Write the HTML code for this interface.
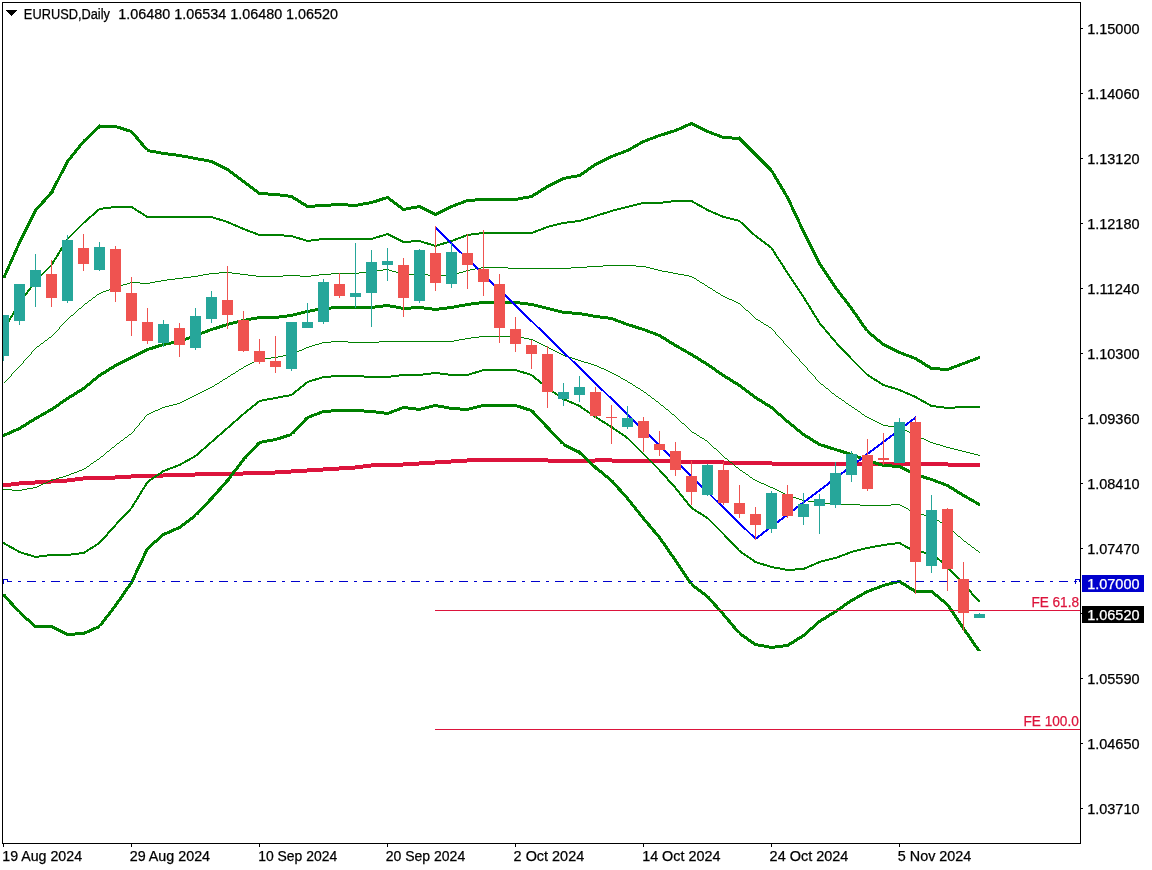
<!DOCTYPE html>
<html lang="en"><head><meta charset="utf-8"><title>EURUSD,Daily</title>
<style>html,body{margin:0;padding:0;background:#fff;overflow:hidden}svg{display:block}text{font-family:"Liberation Sans",sans-serif;font-size:14px;fill:#000;stroke:#000;stroke-width:0.25}text.w{fill:#fff;stroke:#fff}text.c{fill:#DC143C;stroke:#DC143C}</style></head><body>
<svg width="1152" height="870" viewBox="0 0 1152 870">
<rect width="1152" height="870" fill="#fff"/>
<g shape-rendering="crispEdges">
<path fill="#DC143C" d="M467 458h81v1h-81zM595 458h17v1h-17zM451 459h134v1h-134zM589 459h59v1h-59zM650 459h20v1h-20zM435 460h151v1h-151zM590 460h59v1h-59zM651 460h19v1h-19zM681 460h43v1h-43zM419 461h168v1h-168zM591 461h59v1h-59zM652 461h18v1h-18zM681 461h10v3h-10zM692 461h37v1h-37zM730 461h42v1h-42zM403 462h64v1h-64zM548 462h40v1h-40zM592 462h3v1h-3zM612 462h39v1h-39zM653 462h17v1h-17zM692 462h31v2h-31zM724 462h6v1h-6zM732 462h103v1h-103zM836 462h10v4h-10zM858 462h4v1h-4zM879 462h4v1h-4zM884 462h10v1h-10zM905 462h5v1h-5zM921 462h27v1h-27zM371 463h80v1h-80zM724 463h8v1h-8zM733 463h102v1h-102zM857 463h5v3h-5zM882 463h1v1h-1zM884 463h26v1h-26zM921 463h59v3h-59zM363 464h72v1h-72zM724 464h9v1h-9zM734 464h101v1h-101zM873 464h2v1h-2zM892 464h18v1h-18zM355 465h64v1h-64zM772 465h63v1h-63zM873 465h5v1h-5zM901 465h9v1h-9zM339 466h64v1h-64zM948 466h32v1h-32zM323 467h48v1h-48zM307 468h56v1h-56zM291 469h64v1h-64zM275 470h64v1h-64zM243 471h80v1h-80zM195 472h37v1h-37zM235 472h72v1h-72zM163 473h68v1h-68zM235 473h56v1h-56zM131 474h26v1h-26zM160 474h70v1h-70zM234 474h41v1h-41zM115 475h40v1h-40zM159 475h70v1h-70zM233 475h10v1h-10zM83 476h71v1h-71zM157 476h38v1h-38zM75 477h77v1h-77zM156 477h7v1h-7zM67 478h64v1h-64zM51 479h2v1h-2zM56 479h59v1h-59zM35 480h15v1h-15zM53 480h30v1h-30zM19 481h29v1h-29zM50 481h25v1h-25zM11 482h35v1h-35zM48 482h19v1h-19zM3 483h40v1h-40zM46 483h5v1h-5zM3 484h32v1h-32zM3 485h16v1h-16zM3 486h8v1h-8zM435 610h523v1h-523zM969 610h111v1h-111zM435 729h645v1h-645z"/>
<path fill="#008000" d="M690 122h3v1h-3zM688 123h7v1h-7zM99 124h1v1h-1zM685 124h12v1h-12zM98 125h19v1h-19zM683 125h8v1h-8zM692 125h7v1h-7zM97 126h24v1h-24zM681 126h7v1h-7zM694 126h7v1h-7zM96 127h28v1h-28zM679 127h7v1h-7zM696 127h7v1h-7zM95 128h5v1h-5zM117 128h10v1h-10zM676 128h8v1h-8zM698 128h7v1h-7zM94 129h4v1h-4zM120 129h10v1h-10zM674 129h8v1h-8zM700 129h7v1h-7zM93 130h4v1h-4zM123 130h9v1h-9zM670 130h9v1h-9zM702 130h7v1h-7zM92 131h4v1h-4zM126 131h7v1h-7zM667 131h10v1h-10zM704 131h8v1h-8zM91 132h4v1h-4zM130 132h4v1h-4zM664 132h10v1h-10zM706 132h8v1h-8zM90 133h4v1h-4zM131 133h4v1h-4zM661 133h10v1h-10zM709 133h8v1h-8zM89 134h4v1h-4zM132 134h4v1h-4zM658 134h10v1h-10zM711 134h9v1h-9zM88 135h4v1h-4zM133 135h4v1h-4zM655 135h10v1h-10zM714 135h8v1h-8zM87 136h4v1h-4zM134 136h4v1h-4zM653 136h8v1h-8zM717 136h15v1h-15zM739 136h1v1h-1zM86 137h4v1h-4zM135 137h4v2h-4zM650 137h8v1h-8zM719 137h22v1h-22zM85 138h4v1h-4zM647 138h9v1h-9zM722 138h20v1h-20zM83 139h5v1h-5zM136 139h4v1h-4zM645 139h8v1h-8zM732 139h11v1h-11zM83 140h4v1h-4zM137 140h4v1h-4zM642 140h8v1h-8zM739 140h5v1h-5zM82 141h4v1h-4zM138 141h4v1h-4zM640 141h8v1h-8zM740 141h5v1h-5zM81 142h4v1h-4zM139 142h4v1h-4zM639 142h6v1h-6zM741 142h5v1h-5zM80 143h4v1h-4zM140 143h4v2h-4zM637 143h6v1h-6zM742 143h5v1h-5zM79 144h4v1h-4zM635 144h6v1h-6zM743 144h5v1h-5zM78 145h4v1h-4zM141 145h4v1h-4zM633 145h6v1h-6zM744 145h5v1h-5zM78 146h3v1h-3zM142 146h4v1h-4zM632 146h6v1h-6zM745 146h5v1h-5zM77 147h4v1h-4zM143 147h4v1h-4zM630 147h6v1h-6zM746 147h5v1h-5zM76 148h4v1h-4zM144 148h4v1h-4zM628 148h6v1h-6zM747 148h5v1h-5zM75 149h4v1h-4zM145 149h5v1h-5zM626 149h6v1h-6zM748 149h5v1h-5zM74 150h4v1h-4zM147 150h9v1h-9zM623 150h8v1h-8zM749 150h5v1h-5zM74 151h3v1h-3zM147 151h14v1h-14zM621 151h8v1h-8zM750 151h5v1h-5zM73 152h4v1h-4zM150 152h18v1h-18zM618 152h8v1h-8zM751 152h5v1h-5zM72 153h4v1h-4zM156 153h20v1h-20zM615 153h9v1h-9zM752 153h5v1h-5zM71 154h4v1h-4zM161 154h21v1h-21zM613 154h8v1h-8zM753 154h5v1h-5zM70 155h4v1h-4zM168 155h20v1h-20zM610 155h8v1h-8zM754 155h5v1h-5zM70 156h3v1h-3zM176 156h17v1h-17zM608 156h8v1h-8zM755 156h5v1h-5zM69 157h4v1h-4zM182 157h16v1h-16zM606 157h7v1h-7zM756 157h5v1h-5zM68 158h4v1h-4zM188 158h16v1h-16zM604 158h7v1h-7zM757 158h5v1h-5zM67 159h4v1h-4zM193 159h16v1h-16zM602 159h7v1h-7zM758 159h5v1h-5zM66 160h4v1h-4zM198 160h15v1h-15zM600 160h7v1h-7zM759 160h5v1h-5zM66 161h3v1h-3zM204 161h11v1h-11zM598 161h7v1h-7zM760 161h5v1h-5zM65 162h4v1h-4zM209 162h8v1h-8zM596 162h7v1h-7zM761 162h5v1h-5zM65 163h3v1h-3zM212 163h7v1h-7zM594 163h7v1h-7zM762 163h5v1h-5zM64 164h4v1h-4zM214 164h7v1h-7zM593 164h6v1h-6zM763 164h5v1h-5zM64 165h3v1h-3zM216 165h7v1h-7zM591 165h6v1h-6zM764 165h5v1h-5zM63 166h4v1h-4zM218 166h7v1h-7zM590 166h5v1h-5zM765 166h5v1h-5zM63 167h3v1h-3zM220 167h7v1h-7zM588 167h6v1h-6zM766 167h5v1h-5zM62 168h4v1h-4zM222 168h7v1h-7zM587 168h5v1h-5zM767 168h5v1h-5zM62 169h3v1h-3zM224 169h6v1h-6zM586 169h5v1h-5zM768 169h4v1h-4zM61 170h4v1h-4zM226 170h5v1h-5zM584 170h5v1h-5zM769 170h4v1h-4zM61 171h3v1h-3zM228 171h5v1h-5zM583 171h5v1h-5zM770 171h4v1h-4zM60 172h4v1h-4zM229 172h5v1h-5zM581 172h6v1h-6zM771 172h3v1h-3zM60 173h3v1h-3zM230 173h5v1h-5zM580 173h5v1h-5zM772 173h3v1h-3zM59 174h3v2h-3zM232 174h5v1h-5zM577 174h7v1h-7zM772 174h4v1h-4zM233 175h5v1h-5zM571 175h11v1h-11zM773 175h3v1h-3zM58 176h3v2h-3zM234 176h5v1h-5zM566 176h15v1h-15zM773 176h4v1h-4zM236 177h5v1h-5zM562 177h15v1h-15zM774 177h3v1h-3zM57 178h3v2h-3zM237 178h5v1h-5zM560 178h11v1h-11zM774 178h4v1h-4zM238 179h5v1h-5zM558 179h8v1h-8zM775 179h4v1h-4zM56 180h3v1h-3zM240 180h5v1h-5zM556 180h7v1h-7zM776 180h3v1h-3zM55 181h4v1h-4zM241 181h5v1h-5zM554 181h7v1h-7zM776 181h4v1h-4zM55 182h3v1h-3zM242 182h5v1h-5zM552 182h7v1h-7zM777 182h3v1h-3zM54 183h4v1h-4zM244 183h5v1h-5zM550 183h7v1h-7zM777 183h4v1h-4zM54 184h3v1h-3zM245 184h5v1h-5zM548 184h7v1h-7zM778 184h4v1h-4zM53 185h4v1h-4zM246 185h5v1h-5zM546 185h7v1h-7zM779 185h3v1h-3zM53 186h3v1h-3zM248 186h5v1h-5zM545 186h6v1h-6zM779 186h4v1h-4zM52 187h4v1h-4zM249 187h5v1h-5zM543 187h6v1h-6zM780 187h3v1h-3zM52 188h3v1h-3zM250 188h5v1h-5zM541 188h6v1h-6zM780 188h4v1h-4zM51 189h4v1h-4zM252 189h5v1h-5zM540 189h6v1h-6zM781 189h4v1h-4zM51 190h3v1h-3zM253 190h5v1h-5zM538 190h6v1h-6zM782 190h3v1h-3zM50 191h4v1h-4zM254 191h5v1h-5zM537 191h5v1h-5zM782 191h4v1h-4zM49 192h5v1h-5zM256 192h12v1h-12zM535 192h6v1h-6zM783 192h3v1h-3zM49 193h4v1h-4zM257 193h23v1h-23zM533 193h6v1h-6zM783 193h4v1h-4zM48 194h4v1h-4zM258 194h30v1h-30zM532 194h6v1h-6zM784 194h3v1h-3zM47 195h4v1h-4zM268 195h25v1h-25zM529 195h7v1h-7zM785 195h3v1h-3zM46 196h4v1h-4zM280 196h14v1h-14zM386 196h3v1h-3zM523 196h11v1h-11zM785 196h4v1h-4zM45 197h4v1h-4zM288 197h8v1h-8zM382 197h8v1h-8zM518 197h15v1h-15zM786 197h3v1h-3zM44 198h4v1h-4zM292 198h6v1h-6zM379 198h12v1h-12zM475 198h54v1h-54zM786 198h4v1h-4zM43 199h4v1h-4zM293 199h6v1h-6zM376 199h10v1h-10zM388 199h5v1h-5zM466 199h57v1h-57zM787 199h3v1h-3zM42 200h4v1h-4zM295 200h6v1h-6zM373 200h10v1h-10zM389 200h5v1h-5zM463 200h55v1h-55zM671 200h22v1h-22zM787 200h4v1h-4zM41 201h5v1h-5zM297 201h5v1h-5zM369 201h11v1h-11zM390 201h5v1h-5zM461 201h14v1h-14zM663 201h31v1h-31zM788 201h3v1h-3zM41 202h4v1h-4zM298 202h6v1h-6zM363 202h14v1h-14zM392 202h5v1h-5zM458 202h8v1h-8zM641 202h30v1h-30zM692 202h4v1h-4zM788 202h4v1h-4zM40 203h4v1h-4zM300 203h6v1h-6zM331 203h17v1h-17zM358 203h15v1h-15zM393 203h5v1h-5zM455 203h9v1h-9zM637 203h26v1h-26zM694 203h4v1h-4zM789 203h3v2h-3zM39 204h4v1h-4zM301 204h6v1h-6zM315 204h54v1h-54zM394 204h5v1h-5zM453 204h8v1h-8zM633 204h8v1h-8zM696 204h4v1h-4zM38 205h4v1h-4zM303 205h60v1h-60zM396 205h5v1h-5zM417 205h4v1h-4zM450 205h8v1h-8zM629 205h8v1h-8zM697 205h5v1h-5zM790 205h3v2h-3zM37 206h4v1h-4zM111 206h22v1h-22zM305 206h26v1h-26zM348 206h10v1h-10zM397 206h5v1h-5zM411 206h12v1h-12zM448 206h8v1h-8zM625 206h8v1h-8zM699 206h4v1h-4zM36 207h4v1h-4zM103 207h31v1h-31zM306 207h9v1h-9zM398 207h5v1h-5zM406 207h19v1h-19zM446 207h7v1h-7zM621 207h8v1h-8zM701 207h4v1h-4zM791 207h3v2h-3zM35 208h4v1h-4zM99 208h12v1h-12zM132 208h4v1h-4zM400 208h17v1h-17zM420 208h7v1h-7zM444 208h7v1h-7zM617 208h8v1h-8zM703 208h4v1h-4zM34 209h4v1h-4zM97 209h6v1h-6zM134 209h3v1h-3zM401 209h10v1h-10zM422 209h7v1h-7zM442 209h7v1h-7zM613 209h8v1h-8zM705 209h4v1h-4zM791 209h4v1h-4zM34 210h3v1h-3zM96 210h3v1h-3zM135 210h4v1h-4zM402 210h4v1h-4zM424 210h7v1h-7zM440 210h7v1h-7zM610 210h7v1h-7zM706 210h5v1h-5zM792 210h3v1h-3zM33 211h4v1h-4zM95 211h3v1h-3zM137 211h4v1h-4zM426 211h7v1h-7zM438 211h7v1h-7zM607 211h6v1h-6zM708 211h5v1h-5zM792 211h4v1h-4zM33 212h3v1h-3zM94 212h3v1h-3zM138 212h4v1h-4zM428 212h7v1h-7zM436 212h7v1h-7zM603 212h7v1h-7zM711 212h5v1h-5zM793 212h3v1h-3zM32 213h4v1h-4zM93 213h3v1h-3zM140 213h4v1h-4zM430 213h11v1h-11zM600 213h7v1h-7zM713 213h5v1h-5zM793 213h4v1h-4zM32 214h3v1h-3zM92 214h3v1h-3zM142 214h3v1h-3zM432 214h7v1h-7zM597 214h7v1h-7zM715 214h5v1h-5zM794 214h3v1h-3zM31 215h4v1h-4zM91 215h3v1h-3zM143 215h4v1h-4zM434 215h3v1h-3zM594 215h6v1h-6zM718 215h5v1h-5zM794 215h4v1h-4zM31 216h3v1h-3zM89 216h3v1h-3zM145 216h68v1h-68zM591 216h6v1h-6zM720 216h6v1h-6zM795 216h3v1h-3zM30 217h4v1h-4zM88 217h3v1h-3zM146 217h70v1h-70zM587 217h7v1h-7zM722 217h8v1h-8zM795 217h4v1h-4zM30 218h3v1h-3zM87 218h3v1h-3zM213 218h7v1h-7zM584 218h7v1h-7zM726 218h8v1h-8zM796 218h3v1h-3zM29 219h4v1h-4zM86 219h3v1h-3zM216 219h7v1h-7zM581 219h7v1h-7zM730 219h8v1h-8zM796 219h4v1h-4zM29 220h3v1h-3zM85 220h3v1h-3zM219 220h7v1h-7zM575 220h9v1h-9zM734 220h6v1h-6zM797 220h3v2h-3zM28 221h4v1h-4zM84 221h3v1h-3zM223 221h6v1h-6zM567 221h14v1h-14zM738 221h3v1h-3zM28 222h3v1h-3zM83 222h3v1h-3zM226 222h5v1h-5zM561 222h14v1h-14zM740 222h3v1h-3zM798 222h3v2h-3zM27 223h4v1h-4zM82 223h2v1h-2zM228 223h5v1h-5zM557 223h10v1h-10zM741 223h3v1h-3zM27 224h3v1h-3zM81 224h2v1h-2zM231 224h5v1h-5zM553 224h8v1h-8zM742 224h3v1h-3zM799 224h3v2h-3zM26 225h4v1h-4zM80 225h2v1h-2zM233 225h5v1h-5zM549 225h8v1h-8zM743 225h3v1h-3zM26 226h3v1h-3zM79 226h2v1h-2zM235 226h5v1h-5zM546 226h7v1h-7zM744 226h3v1h-3zM799 226h4v1h-4zM25 227h4v1h-4zM78 227h2v1h-2zM238 227h5v1h-5zM543 227h6v1h-6zM745 227h3v1h-3zM800 227h3v1h-3zM25 228h3v1h-3zM77 228h2v1h-2zM240 228h5v1h-5zM541 228h5v1h-5zM746 228h3v1h-3zM800 228h4v1h-4zM24 229h4v1h-4zM76 229h2v1h-2zM242 229h6v1h-6zM538 229h6v1h-6zM747 229h3v1h-3zM801 229h3v1h-3zM24 230h3v1h-3zM75 230h2v1h-2zM245 230h5v1h-5zM535 230h6v1h-6zM748 230h3v1h-3zM801 230h4v1h-4zM23 231h4v1h-4zM74 231h2v1h-2zM247 231h6v1h-6zM533 231h5v1h-5zM749 231h3v1h-3zM802 231h3v1h-3zM23 232h3v1h-3zM73 232h2v1h-2zM250 232h6v1h-6zM479 232h4v1h-4zM484 232h52v1h-52zM750 232h3v1h-3zM802 232h4v1h-4zM22 233h4v1h-4zM72 233h2v1h-2zM253 233h5v1h-5zM386 233h3v1h-3zM471 233h12v1h-12zM484 233h49v1h-49zM751 233h3v1h-3zM803 233h3v1h-3zM22 234h3v1h-3zM71 234h2v1h-2zM255 234h29v1h-29zM383 234h8v1h-8zM466 234h1v1h-1zM468 234h11v1h-11zM752 234h3v1h-3zM803 234h4v1h-4zM21 235h4v1h-4zM70 235h2v1h-2zM258 235h35v1h-35zM379 235h7v1h-7zM388 235h5v1h-5zM463 235h4v1h-4zM468 235h3v1h-3zM754 235h3v1h-3zM804 235h3v1h-3zM21 236h3v1h-3zM69 236h2v1h-2zM284 236h12v1h-12zM376 236h7v1h-7zM390 236h5v1h-5zM461 236h5v1h-5zM755 236h3v1h-3zM804 236h4v1h-4zM20 237h4v1h-4zM68 237h2v1h-2zM293 237h7v1h-7zM373 237h7v1h-7zM392 237h5v1h-5zM458 237h6v1h-6zM756 237h3v1h-3zM805 237h3v1h-3zM20 238h3v1h-3zM68 238h1v1h-1zM296 238h7v1h-7zM319 238h57v1h-57zM394 238h5v1h-5zM455 238h6v1h-6zM757 238h4v1h-4zM805 238h4v1h-4zM19 239h4v1h-4zM66 239h1v1h-1zM299 239h7v1h-7zM311 239h62v1h-62zM396 239h5v1h-5zM453 239h5v1h-5zM759 239h3v1h-3zM806 239h3v1h-3zM19 240h3v1h-3zM303 240h16v1h-16zM398 240h5v1h-5zM411 240h10v1h-10zM450 240h6v1h-6zM760 240h3v1h-3zM806 240h4v1h-4zM18 241h4v1h-4zM306 241h5v1h-5zM400 241h24v1h-24zM447 241h1v1h-1zM451 241h2v1h-2zM761 241h4v1h-4zM807 241h3v1h-3zM18 242h3v1h-3zM402 242h9v1h-9zM421 242h7v1h-7zM443 242h6v1h-6zM763 242h3v1h-3zM807 242h4v1h-4zM17 243h4v1h-4zM424 243h7v1h-7zM440 243h7v1h-7zM764 243h3v1h-3zM808 243h3v1h-3zM17 244h3v2h-3zM427 244h7v1h-7zM437 244h7v1h-7zM765 244h4v1h-4zM808 244h4v1h-4zM431 245h4v1h-4zM436 245h4v1h-4zM767 245h3v1h-3zM809 245h3v1h-3zM16 246h3v2h-3zM434 246h1v1h-1zM436 246h1v1h-1zM768 246h3v1h-3zM809 246h4v1h-4zM61 247h1v1h-1zM769 247h3v1h-3zM810 247h3v1h-3zM15 248h3v2h-3zM60 248h2v2h-2zM771 248h2v1h-2zM810 248h4v1h-4zM771 249h3v1h-3zM811 249h3v1h-3zM14 250h4v1h-4zM59 250h3v1h-3zM772 250h2v1h-2zM811 250h4v1h-4zM14 251h3v1h-3zM59 251h2v1h-2zM773 251h2v1h-2zM812 251h3v1h-3zM13 252h4v1h-4zM58 252h2v1h-2zM773 252h3v1h-3zM812 252h4v1h-4zM13 253h3v2h-3zM57 253h3v1h-3zM774 253h2v1h-2zM813 253h3v1h-3zM57 254h2v1h-2zM774 254h3v1h-3zM813 254h4v1h-4zM12 255h3v2h-3zM56 255h3v1h-3zM775 255h2v1h-2zM814 255h3v1h-3zM56 256h2v1h-2zM776 256h2v1h-2zM814 256h4v1h-4zM11 257h3v2h-3zM55 257h2v1h-2zM776 257h3v1h-3zM815 257h3v1h-3zM54 258h3v1h-3zM777 258h2v1h-2zM815 258h4v1h-4zM10 259h4v1h-4zM54 259h2v1h-2zM778 259h2v1h-2zM816 259h3v1h-3zM10 260h3v1h-3zM53 260h2v1h-2zM778 260h3v1h-3zM816 260h4v1h-4zM9 261h4v1h-4zM52 261h3v1h-3zM779 261h2v1h-2zM817 261h3v1h-3zM9 262h3v2h-3zM52 262h2v2h-2zM780 262h2v1h-2zM817 262h4v1h-4zM780 263h3v1h-3zM818 263h3v1h-3zM8 264h3v2h-3zM52 264h1v1h-1zM781 264h2v1h-2zM818 264h4v1h-4zM50 265h1v1h-1zM603 265h33v1h-33zM782 265h2v1h-2zM819 265h4v1h-4zM7 266h3v2h-3zM49 266h2v1h-2zM587 266h16v1h-16zM636 266h10v1h-10zM782 266h3v1h-3zM820 266h3v1h-3zM48 267h2v1h-2zM481 267h2v1h-2zM484 267h24v1h-24zM571 267h16v1h-16zM646 267h4v1h-4zM783 267h2v1h-2zM820 267h4v1h-4zM6 268h4v1h-4zM47 268h2v1h-2zM475 268h1v1h-1zM479 268h2v1h-2zM508 268h63v1h-63zM650 268h4v1h-4zM783 268h3v1h-3zM821 268h4v1h-4zM6 269h3v1h-3zM46 269h2v1h-2zM383 269h4v1h-4zM388 269h1v1h-1zM470 269h5v1h-5zM654 269h4v1h-4zM784 269h2v1h-2zM822 269h3v1h-3zM5 270h4v1h-4zM45 270h2v1h-2zM377 270h6v1h-6zM389 270h3v1h-3zM466 270h1v1h-1zM468 270h2v1h-2zM658 270h4v1h-4zM785 270h2v1h-2zM822 270h4v1h-4zM5 271h3v2h-3zM44 271h2v1h-2zM392 271h4v1h-4zM463 271h3v1h-3zM662 271h6v1h-6zM785 271h3v1h-3zM823 271h4v1h-4zM43 272h2v1h-2zM219 272h8v1h-8zM228 272h4v1h-4zM359 272h7v1h-7zM396 272h2v1h-2zM459 272h4v1h-4zM668 272h5v1h-5zM786 272h2v1h-2zM824 272h3v1h-3zM4 273h3v2h-3zM42 273h2v1h-2zM209 273h10v1h-10zM232 273h8v1h-8zM331 273h8v1h-8zM340 273h15v1h-15zM356 273h3v1h-3zM457 273h2v1h-2zM673 273h5v1h-5zM787 273h2v1h-2zM824 273h4v1h-4zM41 274h2v1h-2zM203 274h6v1h-6zM240 274h8v1h-8zM319 274h12v1h-12zM409 274h5v1h-5zM425 274h3v1h-3zM678 274h6v1h-6zM787 274h3v1h-3zM825 274h4v1h-4zM3 275h3v3h-3zM41 275h1v1h-1zM198 275h5v1h-5zM248 275h8v1h-8zM283 275h17v1h-17zM311 275h8v1h-8zM428 275h2v1h-2zM441 275h5v1h-5zM684 275h5v1h-5zM788 275h2v1h-2zM826 275h3v1h-3zM191 276h7v1h-7zM256 276h27v1h-27zM300 276h11v1h-11zM689 276h3v1h-3zM789 276h2v1h-2zM826 276h4v1h-4zM183 277h8v1h-8zM692 277h2v1h-2zM789 277h3v1h-3zM827 277h4v1h-4zM175 278h8v1h-8zM694 278h2v1h-2zM790 278h2v1h-2zM828 278h3v1h-3zM167 279h8v1h-8zM696 279h1v1h-1zM791 279h2v1h-2zM828 279h4v1h-4zM161 280h6v1h-6zM697 280h2v1h-2zM791 280h3v1h-3zM829 280h4v1h-4zM155 281h6v1h-6zM699 281h1v1h-1zM792 281h2v1h-2zM830 281h3v1h-3zM130 282h1v1h-1zM132 282h8v1h-8zM150 282h5v1h-5zM700 282h2v1h-2zM793 282h2v1h-2zM830 282h4v1h-4zM127 283h3v1h-3zM140 283h10v1h-10zM702 283h2v1h-2zM793 283h3v1h-3zM831 283h4v1h-4zM123 284h4v1h-4zM704 284h1v1h-1zM794 284h2v1h-2zM832 284h3v1h-3zM121 285h2v1h-2zM705 285h2v1h-2zM795 285h2v1h-2zM832 285h4v1h-4zM707 286h1v1h-1zM795 286h3v1h-3zM833 286h4v1h-4zM30 287h2v1h-2zM708 287h2v1h-2zM796 287h2v1h-2zM834 287h3v1h-3zM29 288h2v1h-2zM710 288h2v1h-2zM797 288h2v1h-2zM834 288h4v1h-4zM28 289h3v1h-3zM109 289h1v1h-1zM712 289h1v1h-1zM797 289h3v1h-3zM835 289h4v1h-4zM27 290h3v1h-3zM106 290h3v1h-3zM713 290h2v1h-2zM798 290h2v1h-2zM836 290h4v1h-4zM27 291h2v1h-2zM103 291h3v1h-3zM715 291h1v1h-1zM799 291h2v1h-2zM837 291h3v1h-3zM26 292h2v1h-2zM101 292h2v1h-2zM716 292h2v1h-2zM799 292h3v1h-3zM837 292h4v1h-4zM25 293h3v1h-3zM99 293h2v1h-2zM718 293h2v1h-2zM800 293h2v1h-2zM838 293h4v1h-4zM25 294h2v1h-2zM97 294h2v1h-2zM720 294h1v1h-1zM801 294h2v1h-2zM839 294h4v1h-4zM25 295h1v1h-1zM96 295h1v1h-1zM721 295h2v1h-2zM801 295h3v1h-3zM840 295h3v1h-3zM95 296h1v1h-1zM723 296h2v1h-2zM802 296h2v1h-2zM840 296h4v1h-4zM93 297h2v1h-2zM725 297h2v1h-2zM803 297h2v1h-2zM841 297h4v1h-4zM92 298h1v1h-1zM727 298h2v1h-2zM803 298h3v1h-3zM842 298h4v1h-4zM91 299h1v1h-1zM729 299h3v1h-3zM804 299h2v1h-2zM843 299h4v1h-4zM89 300h2v1h-2zM732 300h2v1h-2zM804 300h3v1h-3zM844 300h3v1h-3zM88 301h1v1h-1zM479 301h15v1h-15zM505 301h5v1h-5zM513 301h7v1h-7zM734 301h2v1h-2zM805 301h2v1h-2zM844 301h4v1h-4zM87 302h1v1h-1zM471 302h23v1h-23zM505 302h6v1h-6zM514 302h14v1h-14zM736 302h2v1h-2zM806 302h2v1h-2zM845 302h4v1h-4zM85 303h2v1h-2zM465 303h29v1h-29zM505 303h7v1h-7zM515 303h19v1h-19zM738 303h2v1h-2zM806 303h3v1h-3zM846 303h4v1h-4zM84 304h1v1h-1zM383 304h7v1h-7zM459 304h20v1h-20zM520 304h18v1h-18zM740 304h1v1h-1zM807 304h2v1h-2zM847 304h3v1h-3zM83 305h1v1h-1zM375 305h21v1h-21zM454 305h17v1h-17zM528 305h14v1h-14zM741 305h1v1h-1zM808 305h2v1h-2zM847 305h4v1h-4zM82 306h1v1h-1zM331 306h24v1h-24zM356 306h15v2h-15zM372 306h29v1h-29zM411 306h13v1h-13zM447 306h18v1h-18zM534 306h12v1h-12zM742 306h1v1h-1zM808 306h3v1h-3zM848 306h4v1h-4zM81 307h1v1h-1zM329 307h26v1h-26zM372 307h11v1h-11zM390 307h13v1h-13zM404 307h28v1h-28zM439 307h20v1h-20zM538 307h12v1h-12zM743 307h1v1h-1zM809 307h2v1h-2zM849 307h4v1h-4zM79 308h2v1h-2zM315 308h3v1h-3zM329 308h42v1h-42zM372 308h3v1h-3zM396 308h7v1h-7zM404 308h50v1h-50zM542 308h12v1h-12zM744 308h1v1h-1zM809 308h3v1h-3zM850 308h3v1h-3zM78 309h1v1h-1zM310 309h8v1h-8zM329 309h2v1h-2zM401 309h2v1h-2zM404 309h7v1h-7zM424 309h23v1h-23zM546 309h12v1h-12zM745 309h1v1h-1zM810 309h2v1h-2zM850 309h4v1h-4zM77 310h1v1h-1zM305 310h2v1h-2zM308 310h10v1h-10zM432 310h7v1h-7zM550 310h12v1h-12zM746 310h2v1h-2zM811 310h2v1h-2zM851 310h4v1h-4zM13 311h1v2h-1zM76 311h1v1h-1zM301 311h6v1h-6zM308 311h7v1h-7zM554 311h18v1h-18zM748 311h1v1h-1zM811 311h3v1h-3zM852 311h3v1h-3zM75 312h1v1h-1zM297 312h10v1h-10zM308 312h2v1h-2zM558 312h24v1h-24zM749 312h1v1h-1zM812 312h2v1h-2zM852 312h4v1h-4zM12 313h2v2h-2zM74 313h1v1h-1zM293 313h12v1h-12zM562 313h26v1h-26zM750 313h1v1h-1zM812 313h3v1h-3zM853 313h4v1h-4zM73 314h1v1h-1zM287 314h14v1h-14zM572 314h21v1h-21zM751 314h1v1h-1zM813 314h2v1h-2zM854 314h4v1h-4zM11 315h2v1h-2zM71 315h2v1h-2zM279 315h18v1h-18zM582 315h18v1h-18zM752 315h1v1h-1zM814 315h2v1h-2zM855 315h3v1h-3zM10 316h3v1h-3zM70 316h1v1h-1zM257 316h36v1h-36zM588 316h20v1h-20zM753 316h1v1h-1zM814 316h3v1h-3zM855 316h4v1h-4zM10 317h2v1h-2zM69 317h1v1h-1zM251 317h36v1h-36zM593 317h20v1h-20zM754 317h1v1h-1zM815 317h2v1h-2zM856 317h4v1h-4zM9 318h2v2h-2zM68 318h1v1h-1zM246 318h33v1h-33zM600 318h16v1h-16zM755 318h1v1h-1zM816 318h2v1h-2zM857 318h3v1h-3zM67 319h1v1h-1zM241 319h2v1h-2zM244 319h13v1h-13zM608 319h10v1h-10zM756 319h2v1h-2zM816 319h3v1h-3zM857 319h4v1h-4zM9 320h1v2h-1zM66 320h1v1h-1zM237 320h1v1h-1zM249 320h2v1h-2zM613 320h8v1h-8zM758 320h2v1h-2zM817 320h2v1h-2zM858 320h4v1h-4zM65 321h1v1h-1zM233 321h5v1h-5zM615 321h9v1h-9zM760 321h1v1h-1zM817 321h3v1h-3zM859 321h3v1h-3zM64 322h1v1h-1zM229 322h9v1h-9zM618 322h8v1h-8zM761 322h2v1h-2zM818 322h2v1h-2zM859 322h4v1h-4zM63 323h1v1h-1zM226 323h1v1h-1zM228 323h9v1h-9zM621 323h8v1h-8zM763 323h1v1h-1zM819 323h2v1h-2zM860 323h4v1h-4zM62 324h1v1h-1zM222 324h5v1h-5zM228 324h5v1h-5zM623 324h10v1h-10zM764 324h2v1h-2zM819 324h3v1h-3zM861 324h3v1h-3zM61 325h1v1h-1zM219 325h8v1h-8zM228 325h1v1h-1zM626 325h10v1h-10zM766 325h2v1h-2zM820 325h3v1h-3zM861 325h4v1h-4zM60 326h1v1h-1zM216 326h10v1h-10zM629 326h10v1h-10zM768 326h1v1h-1zM821 326h3v1h-3zM862 326h4v1h-4zM59 327h1v2h-1zM213 327h10v1h-10zM632 327h10v1h-10zM769 327h2v1h-2zM822 327h3v1h-3zM863 327h4v1h-4zM210 328h10v1h-10zM635 328h10v1h-10zM771 328h1v1h-1zM823 328h2v1h-2zM864 328h3v1h-3zM58 329h1v1h-1zM207 329h10v1h-10zM638 329h10v1h-10zM772 329h1v1h-1zM824 329h2v1h-2zM864 329h4v1h-4zM57 330h1v1h-1zM205 330h8v1h-8zM642 330h8v1h-8zM773 330h1v1h-1zM825 330h2v1h-2zM865 330h4v1h-4zM56 331h1v1h-1zM202 331h8v1h-8zM645 331h8v1h-8zM774 331h1v1h-1zM825 331h3v1h-3zM867 331h3v1h-3zM55 332h1v1h-1zM201 332h7v1h-7zM647 332h9v1h-9zM775 332h1v2h-1zM826 332h3v1h-3zM867 332h4v1h-4zM54 333h1v1h-1zM201 333h4v1h-4zM650 333h8v1h-8zM827 333h3v1h-3zM868 333h4v1h-4zM53 334h1v1h-1zM201 334h1v1h-1zM653 334h8v1h-8zM776 334h1v1h-1zM828 334h2v1h-2zM869 334h5v1h-5zM52 335h1v1h-1zM655 335h7v1h-7zM777 335h1v1h-1zM829 335h2v1h-2zM870 335h5v1h-5zM51 336h1v1h-1zM189 336h1v1h-1zM479 336h20v1h-20zM500 336h10v1h-10zM658 336h6v1h-6zM778 336h1v1h-1zM830 336h2v1h-2zM871 336h5v1h-5zM49 337h2v1h-2zM186 337h4v1h-4zM471 337h8v1h-8zM521 337h3v1h-3zM660 337h6v1h-6zM779 337h1v1h-1zM830 337h3v1h-3zM873 337h4v1h-4zM48 338h1v1h-1zM185 338h5v1h-5zM465 338h6v1h-6zM524 338h5v1h-5zM661 338h6v1h-6zM780 338h1v1h-1zM831 338h3v1h-3zM874 338h4v1h-4zM47 339h1v1h-1zM185 339h4v1h-4zM459 339h6v1h-6zM529 339h4v1h-4zM663 339h6v1h-6zM781 339h1v1h-1zM832 339h3v1h-3zM875 339h5v1h-5zM45 340h2v1h-2zM185 340h1v1h-1zM454 340h5v1h-5zM533 340h2v1h-2zM665 340h5v1h-5zM782 340h1v1h-1zM833 340h3v1h-3zM876 340h5v1h-5zM44 341h1v1h-1zM171 341h3v1h-3zM331 341h17v1h-17zM379 341h75v1h-75zM535 341h2v1h-2zM666 341h6v1h-6zM783 341h1v2h-1zM834 341h2v1h-2zM877 341h5v1h-5zM43 342h1v1h-1zM169 342h5v1h-5zM322 342h9v1h-9zM348 342h31v1h-31zM537 342h2v1h-2zM668 342h6v1h-6zM835 342h2v1h-2zM879 342h4v1h-4zM41 343h2v1h-2zM162 343h1v1h-1zM164 343h10v1h-10zM319 343h3v1h-3zM539 343h2v1h-2zM669 343h6v1h-6zM784 343h1v1h-1zM836 343h2v1h-2zM880 343h5v1h-5zM40 344h1v1h-1zM158 344h5v1h-5zM164 344h7v1h-7zM315 344h4v1h-4zM541 344h2v1h-2zM671 344h6v1h-6zM785 344h1v1h-1zM836 344h3v1h-3zM881 344h6v1h-6zM39 345h1v1h-1zM155 345h8v1h-8zM164 345h2v1h-2zM312 345h3v1h-3zM543 345h2v1h-2zM673 345h6v1h-6zM786 345h1v1h-1zM837 345h3v1h-3zM882 345h7v1h-7zM37 346h2v1h-2zM152 346h10v1h-10zM309 346h3v1h-3zM545 346h2v1h-2zM674 346h6v1h-6zM787 346h1v1h-1zM838 346h3v1h-3zM884 346h7v1h-7zM36 347h1v1h-1zM149 347h10v1h-10zM306 347h3v1h-3zM548 347h1v1h-1zM676 347h6v1h-6zM788 347h1v1h-1zM839 347h3v1h-3zM886 347h7v1h-7zM35 348h1v1h-1zM146 348h10v1h-10zM304 348h2v1h-2zM549 348h2v1h-2zM678 348h6v1h-6zM789 348h1v1h-1zM840 348h3v1h-3zM888 348h7v1h-7zM34 349h1v1h-1zM144 349h9v1h-9zM302 349h2v1h-2zM551 349h2v1h-2zM680 349h6v1h-6zM790 349h1v1h-1zM841 349h3v1h-3zM890 349h7v1h-7zM33 350h1v1h-1zM142 350h7v1h-7zM299 350h3v1h-3zM553 350h2v1h-2zM681 350h6v1h-6zM791 350h1v2h-1zM842 350h3v1h-3zM892 350h7v1h-7zM32 351h1v1h-1zM140 351h7v1h-7zM297 351h2v1h-2zM555 351h2v1h-2zM683 351h6v1h-6zM843 351h3v1h-3zM894 351h7v1h-7zM31 352h1v2h-1zM138 352h7v1h-7zM557 352h2v1h-2zM685 352h6v1h-6zM792 352h1v1h-1zM844 352h3v1h-3zM896 352h8v1h-8zM136 353h7v1h-7zM559 353h2v1h-2zM687 353h6v1h-6zM793 353h1v1h-1zM845 353h3v1h-3zM898 353h8v1h-8zM30 354h1v1h-1zM134 354h7v1h-7zM561 354h2v1h-2zM688 354h6v1h-6zM794 354h1v1h-1zM846 354h3v1h-3zM901 354h8v1h-8zM29 355h1v1h-1zM132 355h7v1h-7zM283 355h3v1h-3zM563 355h2v1h-2zM690 355h6v1h-6zM795 355h1v1h-1zM847 355h3v1h-3zM903 355h9v1h-9zM28 356h1v1h-1zM130 356h7v1h-7zM278 356h5v1h-5zM565 356h1v1h-1zM692 356h6v1h-6zM796 356h1v1h-1zM848 356h3v1h-3zM906 356h8v1h-8zM978 356h2v1h-2zM27 357h1v1h-1zM128 357h7v1h-7zM271 357h4v1h-4zM276 357h2v1h-2zM570 357h2v1h-2zM693 357h6v1h-6zM797 357h1v1h-1zM849 357h2v1h-2zM909 357h8v1h-8zM975 357h5v1h-5zM26 358h1v1h-1zM126 358h7v1h-7zM265 358h6v1h-6zM572 358h3v1h-3zM695 358h6v1h-6zM798 358h1v1h-1zM850 358h2v1h-2zM911 358h7v1h-7zM973 358h7v1h-7zM25 359h1v1h-1zM124 359h7v1h-7zM575 359h3v1h-3zM697 359h5v1h-5zM799 359h1v2h-1zM851 359h2v1h-2zM914 359h6v1h-6zM970 359h8v1h-8zM24 360h1v1h-1zM122 360h7v1h-7zM578 360h3v1h-3zM698 360h6v1h-6zM852 360h2v1h-2zM916 360h6v1h-6zM967 360h9v1h-9zM23 361h1v2h-1zM120 361h7v1h-7zM581 361h3v1h-3zM700 361h6v1h-6zM800 361h1v1h-1zM853 361h2v1h-2zM917 361h6v1h-6zM965 361h8v1h-8zM118 362h7v1h-7zM252 362h2v1h-2zM584 362h4v1h-4zM701 362h6v1h-6zM801 362h1v1h-1zM854 362h2v1h-2zM919 362h6v1h-6zM962 362h8v1h-8zM22 363h1v1h-1zM116 363h7v1h-7zM250 363h2v1h-2zM588 363h3v1h-3zM703 363h6v1h-6zM802 363h1v1h-1zM855 363h2v1h-2zM921 363h5v1h-5zM959 363h9v1h-9zM21 364h1v1h-1zM114 364h7v1h-7zM248 364h2v1h-2zM591 364h3v1h-3zM705 364h5v1h-5zM803 364h1v1h-1zM856 364h2v1h-2zM922 364h6v1h-6zM957 364h8v1h-8zM20 365h1v1h-1zM113 365h6v1h-6zM246 365h2v1h-2zM594 365h3v1h-3zM706 365h6v1h-6zM804 365h1v1h-1zM857 365h2v1h-2zM924 365h6v1h-6zM954 365h8v1h-8zM19 366h1v1h-1zM111 366h6v1h-6zM244 366h2v1h-2zM597 366h2v1h-2zM708 366h5v1h-5zM805 366h1v1h-1zM858 366h2v1h-2zM925 366h6v1h-6zM951 366h9v1h-9zM18 367h1v1h-1zM109 367h6v1h-6zM243 367h1v1h-1zM599 367h2v1h-2zM709 367h6v1h-6zM806 367h1v1h-1zM859 367h2v1h-2zM927 367h13v1h-13zM949 367h8v1h-8zM17 368h1v1h-1zM108 368h6v1h-6zM241 368h2v1h-2zM601 368h3v1h-3zM711 368h5v1h-5zM807 368h1v2h-1zM860 368h2v1h-2zM929 368h25v1h-25zM16 369h1v1h-1zM106 369h6v1h-6zM239 369h2v1h-2zM482 369h35v1h-35zM604 369h2v1h-2zM712 369h5v1h-5zM861 369h2v1h-2zM930 369h22v1h-22zM15 370h1v1h-1zM105 370h5v1h-5zM238 370h1v1h-1zM479 370h41v1h-41zM606 370h2v1h-2zM714 370h5v1h-5zM808 370h1v1h-1zM862 370h2v1h-2zM940 370h9v1h-9zM14 371h1v1h-1zM103 371h6v1h-6zM236 371h2v1h-2zM475 371h7v1h-7zM517 371h7v1h-7zM608 371h2v1h-2zM715 371h5v1h-5zM809 371h1v1h-1zM863 371h2v1h-2zM13 372h1v1h-1zM101 372h6v1h-6zM235 372h1v1h-1zM431 372h9v1h-9zM472 372h7v1h-7zM520 372h7v1h-7zM610 372h2v1h-2zM716 372h6v1h-6zM810 372h1v1h-1zM864 372h2v1h-2zM12 373h1v1h-1zM100 373h6v1h-6zM233 373h2v1h-2zM423 373h25v1h-25zM469 373h7v1h-7zM523 373h7v1h-7zM612 373h2v1h-2zM718 373h5v1h-5zM811 373h1v1h-1zM865 373h2v1h-2zM11 374h1v2h-1zM98 374h6v1h-6zM231 374h2v1h-2zM399 374h32v1h-32zM440 374h32v1h-32zM527 374h5v1h-5zM614 374h2v1h-2zM719 374h6v1h-6zM812 374h1v1h-1zM866 374h3v1h-3zM97 375h5v1h-5zM230 375h1v1h-1zM331 375h33v1h-33zM391 375h32v1h-32zM448 375h21v1h-21zM530 375h4v1h-4zM616 375h2v1h-2zM721 375h5v1h-5zM813 375h1v1h-1zM867 375h3v1h-3zM10 376h1v1h-1zM96 376h5v1h-5zM228 376h2v1h-2zM322 376h77v1h-77zM532 376h3v1h-3zM618 376h2v1h-2zM722 376h6v1h-6zM814 376h1v1h-1zM868 376h4v1h-4zM9 377h1v1h-1zM95 377h4v1h-4zM227 377h1v1h-1zM319 377h12v1h-12zM364 377h27v1h-27zM533 377h3v1h-3zM620 377h1v1h-1zM724 377h6v1h-6zM815 377h1v2h-1zM870 377h3v1h-3zM8 378h1v1h-1zM93 378h5v1h-5zM225 378h2v1h-2zM315 378h7v1h-7zM534 378h3v1h-3zM621 378h2v1h-2zM725 378h6v1h-6zM871 378h4v1h-4zM7 379h1v1h-1zM92 379h5v1h-5zM223 379h2v1h-2zM312 379h7v1h-7zM535 379h4v1h-4zM623 379h2v1h-2zM727 379h6v1h-6zM816 379h1v1h-1zM873 379h4v1h-4zM6 380h1v1h-1zM91 380h5v1h-5zM222 380h1v1h-1zM309 380h7v1h-7zM537 380h3v1h-3zM625 380h2v1h-2zM729 380h5v1h-5zM817 380h1v1h-1zM874 380h4v1h-4zM5 381h1v1h-1zM90 381h4v1h-4zM220 381h2v1h-2zM307 381h5v1h-5zM538 381h3v1h-3zM627 381h1v1h-1zM730 381h6v1h-6zM818 381h1v1h-1zM876 381h4v1h-4zM4 382h1v1h-1zM89 382h4v1h-4zM219 382h1v1h-1zM305 382h4v1h-4zM539 382h3v1h-3zM628 382h2v1h-2zM732 382h6v1h-6zM819 382h1v1h-1zM878 382h3v1h-3zM87 383h5v1h-5zM217 383h2v1h-2zM304 383h3v1h-3zM540 383h2v1h-2zM630 383h2v1h-2zM733 383h6v1h-6zM820 383h1v1h-1zM879 383h4v1h-4zM86 384h5v1h-5zM215 384h2v1h-2zM303 384h3v1h-3zM632 384h1v1h-1zM735 384h6v1h-6zM821 384h2v1h-2zM881 384h4v1h-4zM85 385h5v1h-5zM214 385h1v1h-1zM302 385h3v1h-3zM633 385h2v1h-2zM737 385h5v1h-5zM823 385h1v1h-1zM882 385h6v1h-6zM84 386h4v1h-4zM212 386h2v1h-2zM300 386h4v1h-4zM635 386h1v1h-1zM738 386h5v1h-5zM824 386h1v1h-1zM885 386h7v1h-7zM82 387h5v1h-5zM210 387h2v1h-2zM299 387h3v1h-3zM636 387h2v1h-2zM740 387h5v1h-5zM825 387h1v1h-1zM888 387h7v1h-7zM81 388h5v1h-5zM208 388h2v1h-2zM298 388h3v1h-3zM638 388h2v1h-2zM741 388h5v1h-5zM826 388h2v1h-2zM891 388h7v1h-7zM79 389h6v1h-6zM206 389h2v1h-2zM297 389h3v1h-3zM640 389h1v1h-1zM742 389h5v1h-5zM828 389h1v1h-1zM895 389h6v1h-6zM77 390h6v1h-6zM204 390h2v1h-2zM295 390h4v1h-4zM641 390h2v1h-2zM744 390h5v1h-5zM829 390h1v1h-1zM898 390h5v1h-5zM76 391h6v1h-6zM202 391h2v1h-2zM294 391h3v1h-3zM553 391h1v1h-1zM643 391h1v1h-1zM745 391h5v1h-5zM830 391h1v1h-1zM900 391h5v1h-5zM74 392h6v1h-6zM200 392h2v1h-2zM293 392h3v1h-3zM552 392h4v1h-4zM644 392h2v1h-2zM746 392h5v1h-5zM831 392h1v1h-1zM903 392h5v1h-5zM73 393h5v1h-5zM198 393h2v1h-2zM292 393h3v1h-3zM554 393h3v1h-3zM646 393h1v1h-1zM748 393h5v1h-5zM832 393h2v1h-2zM905 393h5v1h-5zM71 394h6v1h-6zM196 394h2v1h-2zM289 394h5v1h-5zM555 394h3v1h-3zM647 394h1v1h-1zM749 394h5v1h-5zM834 394h1v1h-1zM907 394h5v1h-5zM69 395h6v1h-6zM194 395h2v1h-2zM283 395h9v1h-9zM557 395h1v1h-1zM648 395h2v1h-2zM750 395h5v1h-5zM835 395h1v1h-1zM910 395h5v1h-5zM68 396h6v1h-6zM192 396h2v1h-2zM278 396h11v1h-11zM650 396h1v1h-1zM752 396h5v1h-5zM836 396h2v1h-2zM912 396h5v1h-5zM66 397h6v1h-6zM190 397h2v1h-2zM273 397h10v1h-10zM651 397h1v1h-1zM753 397h5v1h-5zM838 397h1v1h-1zM914 397h4v1h-4zM65 398h5v1h-5zM188 398h2v1h-2zM267 398h11v1h-11zM652 398h2v1h-2zM754 398h6v1h-6zM839 398h2v1h-2zM916 398h4v1h-4zM63 399h6v1h-6zM186 399h2v1h-2zM262 399h11v1h-11zM562 399h1v1h-1zM564 399h3v1h-3zM654 399h1v1h-1zM756 399h6v1h-6zM841 399h1v1h-1zM918 399h4v1h-4zM62 400h5v1h-5zM184 400h2v1h-2zM259 400h8v1h-8zM564 400h5v1h-5zM655 400h1v1h-1zM757 400h6v1h-6zM842 400h2v1h-2zM920 400h4v1h-4zM60 401h6v1h-6zM182 401h2v1h-2zM257 401h5v1h-5zM567 401h5v1h-5zM656 401h2v1h-2zM759 401h6v1h-6zM844 401h1v1h-1zM921 401h5v1h-5zM59 402h5v1h-5zM180 402h2v1h-2zM256 402h3v1h-3zM569 402h5v1h-5zM658 402h1v1h-1zM761 402h5v1h-5zM845 402h1v1h-1zM923 402h4v1h-4zM58 403h5v1h-5zM177 403h3v1h-3zM255 403h3v1h-3zM571 403h5v1h-5zM659 403h1v1h-1zM762 403h6v1h-6zM846 403h2v1h-2zM925 403h4v1h-4zM56 404h5v1h-5zM173 404h4v1h-4zM254 404h3v1h-3zM433 404h5v1h-5zM481 404h36v1h-36zM574 404h5v1h-5zM660 404h1v1h-1zM764 404h6v1h-6zM848 404h1v1h-1zM927 404h4v1h-4zM55 405h5v1h-5zM169 405h4v1h-4zM252 405h4v1h-4zM429 405h15v1h-15zM477 405h44v1h-44zM576 405h5v1h-5zM661 405h2v1h-2zM765 405h6v1h-6zM849 405h2v1h-2zM929 405h7v1h-7zM53 406h6v1h-6zM165 406h4v1h-4zM251 406h3v1h-3zM402 406h6v1h-6zM425 406h24v1h-24zM473 406h51v1h-51zM578 406h4v1h-4zM663 406h1v1h-1zM767 406h6v1h-6zM851 406h1v1h-1zM930 406h14v1h-14zM955 406h25v1h-25zM52 407h5v1h-5zM162 407h3v1h-3zM250 407h3v1h-3zM399 407h17v1h-17zM421 407h12v1h-12zM438 407h22v1h-22zM469 407h12v1h-12zM517 407h10v1h-10zM580 407h3v1h-3zM664 407h1v1h-1zM769 407h5v1h-5zM852 407h2v1h-2zM936 407h44v1h-44zM50 408h6v1h-6zM160 408h2v1h-2zM249 408h3v1h-3zM397 408h32v1h-32zM444 408h33v1h-33zM520 408h10v1h-10zM581 408h4v1h-4zM665 408h1v1h-1zM770 408h5v1h-5zM854 408h1v1h-1zM944 408h11v1h-11zM48 409h6v1h-6zM158 409h2v1h-2zM247 409h4v1h-4zM331 409h33v1h-33zM394 409h8v1h-8zM408 409h17v1h-17zM449 409h24v1h-24zM523 409h9v1h-9zM583 409h3v1h-3zM666 409h2v1h-2zM772 409h4v1h-4zM855 409h2v1h-2zM47 410h6v1h-6zM155 410h3v1h-3zM246 410h3v1h-3zM322 410h54v1h-54zM391 410h9v1h-9zM416 410h5v1h-5zM460 410h9v1h-9zM526 410h8v1h-8zM584 410h4v1h-4zM668 410h1v1h-1zM773 410h4v1h-4zM857 410h1v1h-1zM45 411h6v1h-6zM153 411h2v1h-2zM245 411h3v1h-3zM319 411h65v1h-65zM389 411h8v1h-8zM530 411h5v1h-5zM586 411h3v1h-3zM669 411h1v1h-1zM774 411h4v1h-4zM858 411h2v1h-2zM43 412h6v1h-6zM151 412h2v1h-2zM244 412h3v1h-3zM317 412h14v1h-14zM364 412h30v1h-30zM531 412h4v1h-4zM587 412h3v1h-3zM670 412h1v1h-1zM775 412h4v1h-4zM860 412h1v1h-1zM41 413h6v1h-6zM149 413h2v1h-2zM243 413h3v1h-3zM314 413h8v1h-8zM376 413h16v1h-16zM532 413h4v1h-4zM589 413h1v1h-1zM671 413h1v1h-1zM776 413h5v1h-5zM861 413h1v1h-1zM40 414h6v1h-6zM147 414h2v1h-2zM241 414h3v1h-3zM311 414h9v1h-9zM384 414h5v1h-5zM533 414h4v1h-4zM672 414h2v1h-2zM777 414h5v1h-5zM862 414h2v1h-2zM38 415h6v1h-6zM146 415h1v1h-1zM240 415h3v1h-3zM309 415h8v1h-8zM534 415h4v1h-4zM674 415h1v1h-1zM778 415h5v1h-5zM864 415h1v1h-1zM36 416h6v1h-6zM145 416h1v1h-1zM239 416h3v1h-3zM307 416h7v1h-7zM535 416h4v1h-4zM593 416h2v1h-2zM596 416h1v1h-1zM675 416h1v1h-1zM780 416h4v1h-4zM865 416h2v1h-2zM34 417h6v1h-6zM144 417h1v2h-1zM238 417h3v1h-3zM305 417h7v1h-7zM536 417h4v1h-4zM594 417h1v1h-1zM596 417h2v1h-2zM676 417h1v1h-1zM781 417h4v1h-4zM867 417h2v1h-2zM33 418h6v1h-6zM237 418h3v1h-3zM304 418h5v1h-5zM537 418h4v1h-4zM596 418h4v1h-4zM677 418h1v1h-1zM782 418h4v1h-4zM869 418h2v1h-2zM31 419h6v1h-6zM143 419h1v1h-1zM236 419h3v1h-3zM304 419h4v1h-4zM538 419h4v1h-4zM598 419h3v1h-3zM678 419h1v1h-1zM783 419h4v1h-4zM871 419h2v1h-2zM29 420h6v1h-6zM142 420h1v1h-1zM235 420h3v1h-3zM303 420h4v1h-4zM539 420h4v1h-4zM599 420h4v1h-4zM679 420h1v1h-1zM784 420h5v1h-5zM873 420h2v1h-2zM28 421h6v1h-6zM141 421h1v1h-1zM233 421h3v1h-3zM302 421h4v1h-4zM540 421h4v1h-4zM601 421h4v1h-4zM680 421h1v1h-1zM785 421h5v1h-5zM875 421h2v1h-2zM26 422h6v1h-6zM140 422h1v1h-1zM232 422h3v1h-3zM301 422h4v1h-4zM541 422h4v1h-4zM602 422h4v1h-4zM681 422h1v1h-1zM786 422h5v1h-5zM877 422h2v1h-2zM25 423h5v1h-5zM139 423h1v2h-1zM231 423h3v1h-3zM300 423h4v1h-4zM542 423h4v1h-4zM604 423h4v1h-4zM682 423h2v1h-2zM788 423h4v1h-4zM879 423h2v1h-2zM23 424h6v1h-6zM230 424h3v1h-3zM299 424h4v1h-4zM543 424h4v1h-4zM606 424h3v1h-3zM684 424h1v1h-1zM789 424h5v1h-5zM881 424h2v1h-2zM21 425h6v1h-6zM138 425h1v1h-1zM229 425h3v1h-3zM298 425h4v1h-4zM544 425h4v1h-4zM607 425h4v1h-4zM685 425h1v1h-1zM790 425h5v1h-5zM883 425h5v1h-5zM20 426h6v1h-6zM137 426h1v1h-1zM228 426h3v1h-3zM297 426h4v1h-4zM544 426h5v1h-5zM609 426h2v1h-2zM612 426h1v1h-1zM686 426h1v1h-1zM791 426h5v1h-5zM888 426h6v1h-6zM18 427h6v1h-6zM136 427h1v1h-1zM227 427h3v1h-3zM296 427h4v1h-4zM545 427h5v1h-5zM610 427h1v1h-1zM612 427h2v1h-2zM687 427h1v1h-1zM793 427h4v1h-4zM16 428h6v1h-6zM135 428h1v1h-1zM225 428h3v1h-3zM295 428h4v1h-4zM546 428h5v1h-5zM612 428h3v1h-3zM688 428h1v1h-1zM794 428h4v1h-4zM13 429h8v1h-8zM134 429h1v2h-1zM224 429h3v1h-3zM294 429h4v1h-4zM547 429h4v1h-4zM613 429h4v1h-4zM689 429h1v1h-1zM795 429h5v1h-5zM11 430h8v1h-8zM223 430h3v1h-3zM293 430h4v1h-4zM548 430h4v1h-4zM615 430h3v1h-3zM690 430h1v1h-1zM796 430h5v1h-5zM905 430h2v1h-2zM9 431h7v1h-7zM133 431h1v1h-1zM222 431h3v1h-3zM292 431h4v1h-4zM549 431h4v1h-4zM616 431h4v1h-4zM691 431h1v1h-1zM797 431h5v1h-5zM907 431h2v1h-2zM7 432h7v1h-7zM132 432h1v1h-1zM221 432h3v1h-3zM291 432h4v1h-4zM550 432h4v1h-4zM618 432h3v1h-3zM692 432h2v1h-2zM799 432h4v1h-4zM909 432h1v1h-1zM4 433h8v1h-8zM131 433h1v1h-1zM220 433h3v1h-3zM290 433h5v1h-5zM551 433h4v1h-4zM619 433h4v1h-4zM694 433h2v1h-2zM800 433h5v1h-5zM3 434h7v1h-7zM129 434h2v1h-2zM219 434h3v1h-3zM286 434h6v1h-6zM552 434h4v1h-4zM621 434h3v1h-3zM696 434h1v1h-1zM801 434h5v1h-5zM3 435h4v1h-4zM128 435h1v1h-1zM217 435h3v1h-3zM283 435h9v1h-9zM553 435h4v1h-4zM622 435h4v1h-4zM697 435h2v1h-2zM802 435h6v1h-6zM3 436h2v1h-2zM127 436h1v1h-1zM216 436h3v1h-3zM280 436h10v1h-10zM554 436h4v1h-4zM624 436h3v1h-3zM699 436h1v1h-1zM804 436h6v1h-6zM125 437h2v1h-2zM215 437h3v1h-3zM277 437h10v1h-10zM555 437h4v1h-4zM625 437h3v1h-3zM700 437h2v1h-2zM805 437h6v1h-6zM124 438h1v1h-1zM214 438h3v1h-3zM273 438h11v1h-11zM556 438h4v1h-4zM626 438h3v1h-3zM702 438h2v1h-2zM807 438h6v1h-6zM921 438h3v1h-3zM123 439h1v1h-1zM213 439h3v1h-3zM267 439h14v1h-14zM557 439h4v1h-4zM628 439h2v1h-2zM704 439h1v1h-1zM809 439h5v1h-5zM924 439h2v1h-2zM121 440h2v1h-2zM212 440h3v1h-3zM262 440h15v1h-15zM558 440h4v1h-4zM629 440h2v1h-2zM705 440h2v1h-2zM810 440h6v1h-6zM926 440h2v1h-2zM120 441h1v1h-1zM211 441h3v1h-3zM259 441h14v1h-14zM559 441h4v1h-4zM630 441h2v1h-2zM707 441h1v1h-1zM812 441h6v1h-6zM928 441h2v1h-2zM119 442h1v1h-1zM209 442h3v1h-3zM257 442h10v1h-10zM560 442h4v1h-4zM631 442h2v1h-2zM708 442h1v1h-1zM813 442h6v1h-6zM930 442h3v1h-3zM117 443h2v1h-2zM208 443h3v1h-3zM256 443h6v1h-6zM560 443h5v1h-5zM632 443h2v1h-2zM709 443h1v1h-1zM815 443h6v1h-6zM933 443h3v1h-3zM116 444h1v1h-1zM207 444h3v1h-3zM256 444h4v1h-4zM563 444h4v1h-4zM633 444h2v1h-2zM710 444h1v1h-1zM817 444h8v1h-8zM936 444h4v1h-4zM115 445h1v1h-1zM206 445h3v1h-3zM255 445h4v1h-4zM563 445h6v1h-6zM634 445h2v1h-2zM711 445h1v1h-1zM818 445h10v1h-10zM940 445h3v1h-3zM114 446h1v1h-1zM205 446h3v1h-3zM254 446h4v1h-4zM564 446h7v1h-7zM635 446h2v1h-2zM712 446h1v1h-1zM821 446h10v1h-10zM943 446h3v1h-3zM112 447h2v1h-2zM204 447h3v1h-3zM253 447h4v1h-4zM566 447h7v1h-7zM636 447h2v1h-2zM713 447h1v1h-1zM824 447h10v1h-10zM946 447h4v1h-4zM111 448h1v1h-1zM203 448h3v1h-3zM252 448h4v1h-4zM568 448h7v1h-7zM637 448h2v1h-2zM714 448h2v1h-2zM827 448h10v1h-10zM950 448h4v1h-4zM110 449h1v1h-1zM201 449h3v1h-3zM251 449h4v1h-4zM570 449h7v1h-7zM638 449h2v1h-2zM716 449h1v1h-1zM830 449h11v1h-11zM954 449h4v1h-4zM109 450h1v1h-1zM200 450h3v1h-3zM250 450h4v1h-4zM572 450h8v1h-8zM639 450h2v1h-2zM717 450h1v1h-1zM834 450h10v1h-10zM958 450h4v1h-4zM107 451h2v1h-2zM199 451h3v1h-3zM249 451h4v1h-4zM574 451h7v1h-7zM640 451h2v1h-2zM718 451h1v1h-1zM837 451h10v1h-10zM962 451h4v1h-4zM106 452h1v1h-1zM198 452h3v1h-3zM248 452h4v1h-4zM576 452h6v1h-6zM641 452h2v1h-2zM719 452h1v1h-1zM840 452h10v1h-10zM966 452h4v1h-4zM105 453h1v1h-1zM197 453h3v1h-3zM247 453h4v1h-4zM578 453h5v1h-5zM642 453h2v1h-2zM720 453h1v1h-1zM843 453h8v1h-8zM852 453h1v1h-1zM970 453h4v1h-4zM104 454h1v1h-1zM196 454h3v1h-3zM246 454h4v1h-4zM579 454h5v1h-5zM643 454h2v1h-2zM721 454h1v1h-1zM974 454h4v1h-4zM103 455h1v1h-1zM194 455h4v1h-4zM245 455h4v1h-4zM581 455h4v1h-4zM644 455h2v1h-2zM722 455h1v1h-1zM857 455h1v1h-1zM978 455h2v1h-2zM101 456h2v1h-2zM193 456h3v1h-3zM244 456h4v1h-4zM582 456h4v1h-4zM645 456h2v1h-2zM723 456h1v1h-1zM857 456h4v2h-4zM100 457h1v1h-1zM191 457h4v1h-4zM243 457h4v1h-4zM583 457h4v1h-4zM646 457h2v1h-2zM724 457h1v1h-1zM99 458h1v1h-1zM189 458h4v1h-4zM242 458h5v1h-5zM584 458h4v1h-4zM647 458h2v1h-2zM725 458h2v1h-2zM858 458h2v1h-2zM97 459h2v1h-2zM187 459h4v1h-4zM242 459h3v1h-3zM585 459h4v1h-4zM648 459h2v1h-2zM727 459h1v1h-1zM96 460h1v1h-1zM185 460h5v1h-5zM241 460h4v1h-4zM586 460h4v1h-4zM649 460h2v1h-2zM728 460h1v1h-1zM94 461h2v1h-2zM184 461h4v1h-4zM240 461h4v1h-4zM587 461h4v1h-4zM650 461h2v1h-2zM729 461h1v1h-1zM873 461h3v1h-3zM93 462h1v1h-1zM182 462h4v1h-4zM239 462h4v1h-4zM588 462h4v1h-4zM651 462h2v1h-2zM730 462h2v1h-2zM873 462h6v1h-6zM91 463h2v1h-2zM180 463h4v1h-4zM239 463h3v1h-3zM589 463h4v1h-4zM652 463h2v1h-2zM732 463h1v1h-1zM873 463h9v1h-9zM90 464h1v1h-1zM178 464h4v1h-4zM238 464h4v1h-4zM590 464h4v1h-4zM653 464h2v1h-2zM733 464h1v1h-1zM875 464h8v1h-8zM884 464h8v1h-8zM89 465h1v1h-1zM175 465h6v1h-6zM237 465h4v1h-4zM591 465h5v1h-5zM654 465h2v1h-2zM734 465h1v1h-1zM878 465h23v1h-23zM87 466h2v1h-2zM173 466h5v1h-5zM236 466h4v1h-4zM592 466h5v1h-5zM655 466h2v1h-2zM735 466h1v1h-1zM882 466h21v1h-21zM86 467h1v1h-1zM170 467h6v1h-6zM236 467h3v1h-3zM593 467h5v1h-5zM656 467h2v1h-2zM736 467h2v1h-2zM892 467h13v1h-13zM84 468h2v1h-2zM167 468h6v1h-6zM235 468h4v1h-4zM594 468h5v1h-5zM657 468h2v1h-2zM738 468h1v1h-1zM900 468h7v1h-7zM82 469h2v1h-2zM165 469h5v1h-5zM234 469h4v1h-4zM595 469h5v1h-5zM658 469h2v1h-2zM739 469h1v1h-1zM902 469h7v1h-7zM79 470h3v1h-3zM162 470h6v1h-6zM233 470h4v1h-4zM597 470h5v1h-5zM659 470h2v1h-2zM740 470h2v1h-2zM904 470h6v1h-6zM77 471h2v1h-2zM161 471h4v1h-4zM232 471h4v1h-4zM598 471h5v1h-5zM659 471h3v1h-3zM742 471h1v1h-1zM906 471h4v1h-4zM74 472h3v1h-3zM160 472h3v1h-3zM232 472h3v1h-3zM599 472h5v1h-5zM660 472h3v1h-3zM743 472h2v1h-2zM908 472h2v1h-2zM71 473h3v1h-3zM158 473h4v1h-4zM231 473h4v1h-4zM601 473h4v1h-4zM661 473h3v1h-3zM745 473h1v1h-1zM69 474h2v1h-2zM157 474h3v1h-3zM230 474h4v1h-4zM602 474h4v1h-4zM662 474h3v1h-3zM746 474h2v1h-2zM66 475h3v1h-3zM155 475h4v1h-4zM229 475h4v1h-4zM603 475h5v1h-5zM663 475h3v1h-3zM748 475h1v1h-1zM921 475h3v1h-3zM63 476h3v1h-3zM154 476h3v1h-3zM229 476h3v1h-3zM604 476h5v1h-5zM664 476h3v1h-3zM749 476h1v1h-1zM921 476h6v1h-6zM59 477h4v1h-4zM152 477h4v1h-4zM228 477h4v1h-4zM605 477h5v1h-5zM665 477h3v1h-3zM750 477h2v1h-2zM921 477h9v1h-9zM56 478h3v1h-3zM151 478h3v1h-3zM227 478h4v1h-4zM607 478h4v1h-4zM666 478h2v1h-2zM752 478h1v1h-1zM923 478h10v1h-10zM53 479h3v1h-3zM149 479h4v1h-4zM226 479h4v1h-4zM608 479h4v1h-4zM667 479h2v1h-2zM753 479h2v1h-2zM926 479h10v1h-10zM50 480h3v1h-3zM148 480h3v1h-3zM225 480h5v1h-5zM609 480h5v1h-5zM667 480h3v1h-3zM755 480h2v1h-2zM930 480h8v1h-8zM48 481h2v1h-2zM147 481h3v1h-3zM225 481h4v1h-4zM610 481h4v1h-4zM668 481h3v1h-3zM757 481h2v1h-2zM933 481h8v1h-8zM46 482h2v1h-2zM146 482h3v1h-3zM224 482h4v1h-4zM611 482h4v1h-4zM669 482h3v1h-3zM759 482h2v1h-2zM935 482h9v1h-9zM43 483h3v1h-3zM145 483h3v1h-3zM223 483h4v1h-4zM612 483h4v1h-4zM670 483h3v1h-3zM761 483h3v1h-3zM938 483h8v1h-8zM41 484h2v1h-2zM145 484h2v1h-2zM222 484h4v1h-4zM613 484h4v1h-4zM671 484h3v1h-3zM764 484h2v1h-2zM941 484h8v1h-8zM39 485h2v1h-2zM144 485h3v1h-3zM221 485h4v1h-4zM614 485h4v1h-4zM672 485h3v1h-3zM766 485h2v1h-2zM943 485h7v1h-7zM37 486h2v1h-2zM144 486h2v1h-2zM220 486h4v1h-4zM615 486h4v1h-4zM673 486h3v1h-3zM768 486h2v1h-2zM946 486h6v1h-6zM33 487h4v1h-4zM143 487h2v1h-2zM219 487h4v1h-4zM616 487h4v1h-4zM674 487h2v1h-2zM770 487h3v1h-3zM948 487h6v1h-6zM27 488h6v1h-6zM142 488h3v1h-3zM218 488h4v1h-4zM617 488h4v1h-4zM675 488h2v1h-2zM773 488h2v1h-2zM949 488h6v1h-6zM3 489h9v1h-9zM22 489h5v1h-5zM142 489h2v1h-2zM217 489h5v1h-5zM617 489h5v1h-5zM675 489h3v1h-3zM775 489h2v1h-2zM951 489h6v1h-6zM12 490h10v1h-10zM141 490h2v1h-2zM217 490h4v1h-4zM618 490h4v1h-4zM676 490h3v1h-3zM777 490h2v1h-2zM953 490h5v1h-5zM140 491h3v1h-3zM216 491h4v1h-4zM619 491h4v1h-4zM677 491h3v1h-3zM779 491h2v1h-2zM954 491h6v1h-6zM140 492h2v1h-2zM215 492h4v1h-4zM620 492h4v1h-4zM678 492h2v1h-2zM781 492h2v1h-2zM956 492h6v1h-6zM139 493h3v1h-3zM214 493h4v1h-4zM621 493h4v1h-4zM679 493h2v1h-2zM783 493h2v1h-2zM957 493h6v1h-6zM139 494h2v1h-2zM213 494h4v1h-4zM622 494h4v1h-4zM679 494h3v1h-3zM959 494h6v1h-6zM138 495h2v1h-2zM212 495h4v1h-4zM623 495h4v1h-4zM680 495h3v1h-3zM961 495h6v1h-6zM137 496h3v1h-3zM211 496h4v1h-4zM624 496h4v1h-4zM681 496h3v1h-3zM962 496h6v1h-6zM137 497h2v1h-2zM210 497h4v1h-4zM625 497h4v1h-4zM682 497h2v1h-2zM793 497h3v1h-3zM964 497h6v1h-6zM136 498h3v1h-3zM209 498h5v1h-5zM626 498h3v1h-3zM683 498h2v1h-2zM796 498h3v1h-3zM966 498h6v1h-6zM136 499h2v1h-2zM208 499h5v1h-5zM626 499h4v1h-4zM683 499h3v1h-3zM799 499h3v1h-3zM968 499h6v1h-6zM135 500h2v1h-2zM208 500h4v1h-4zM627 500h4v1h-4zM684 500h3v1h-3zM802 500h1v1h-1zM969 500h6v1h-6zM134 501h3v1h-3zM207 501h4v1h-4zM628 501h4v1h-4zM685 501h3v1h-3zM808 501h6v1h-6zM971 501h6v1h-6zM134 502h2v1h-2zM206 502h4v1h-4zM629 502h4v1h-4zM686 502h2v1h-2zM973 502h6v1h-6zM133 503h2v1h-2zM205 503h4v1h-4zM630 503h3v1h-3zM687 503h2v1h-2zM825 503h5v1h-5zM975 503h5v1h-5zM132 504h3v1h-3zM204 504h4v1h-4zM630 504h4v1h-4zM687 504h3v1h-3zM841 504h19v1h-19zM891 504h9v1h-9zM976 504h4v1h-4zM132 505h2v1h-2zM203 505h4v1h-4zM631 505h4v1h-4zM688 505h3v1h-3zM860 505h31v1h-31zM900 505h2v1h-2zM978 505h2v1h-2zM131 506h3v1h-3zM202 506h4v1h-4zM632 506h4v1h-4zM689 506h3v1h-3zM902 506h2v1h-2zM131 507h2v1h-2zM201 507h4v1h-4zM633 507h4v1h-4zM690 507h3v1h-3zM904 507h2v1h-2zM130 508h2v1h-2zM200 508h4v1h-4zM634 508h3v1h-3zM691 508h3v1h-3zM906 508h2v1h-2zM129 509h2v1h-2zM199 509h4v1h-4zM634 509h4v1h-4zM692 509h4v1h-4zM908 509h1v1h-1zM128 510h3v1h-3zM198 510h4v1h-4zM635 510h4v1h-4zM694 510h3v1h-3zM909 510h1v1h-1zM127 511h3v1h-3zM197 511h4v1h-4zM636 511h4v1h-4zM695 511h4v1h-4zM126 512h3v1h-3zM196 512h4v1h-4zM637 512h4v1h-4zM697 512h4v1h-4zM125 513h3v1h-3zM195 513h4v1h-4zM638 513h3v1h-3zM698 513h4v1h-4zM124 514h3v1h-3zM194 514h5v1h-5zM638 514h4v1h-4zM700 514h4v1h-4zM921 514h3v1h-3zM123 515h3v1h-3zM193 515h3v1h-3zM639 515h4v1h-4zM702 515h3v1h-3zM924 515h2v1h-2zM122 516h3v1h-3zM192 516h4v1h-4zM640 516h4v1h-4zM703 516h4v1h-4zM121 517h3v1h-3zM190 517h5v1h-5zM641 517h4v1h-4zM705 517h3v1h-3zM120 518h3v1h-3zM189 518h5v1h-5zM642 518h3v1h-3zM706 518h3v1h-3zM119 519h3v1h-3zM188 519h5v1h-5zM642 519h4v1h-4zM708 519h2v1h-2zM118 520h3v1h-3zM186 520h5v1h-5zM643 520h4v1h-4zM709 520h2v1h-2zM937 520h2v1h-2zM117 521h3v1h-3zM185 521h5v1h-5zM644 521h4v1h-4zM710 521h2v1h-2zM939 521h1v1h-1zM116 522h3v1h-3zM184 522h5v1h-5zM645 522h4v1h-4zM711 522h2v1h-2zM940 522h2v1h-2zM116 523h2v1h-2zM182 523h5v1h-5zM646 523h4v1h-4zM712 523h2v1h-2zM115 524h2v1h-2zM181 524h5v1h-5zM647 524h4v2h-4zM713 524h2v1h-2zM114 525h2v1h-2zM180 525h5v1h-5zM714 525h2v1h-2zM113 526h3v1h-3zM178 526h5v1h-5zM648 526h4v1h-4zM715 526h2v1h-2zM112 527h3v1h-3zM176 527h6v1h-6zM649 527h4v1h-4zM716 527h2v1h-2zM111 528h3v1h-3zM173 528h8v1h-8zM650 528h4v1h-4zM717 528h2v1h-2zM110 529h3v1h-3zM171 529h8v1h-8zM651 529h4v1h-4zM718 529h2v1h-2zM109 530h3v1h-3zM169 530h7v1h-7zM652 530h4v2h-4zM719 530h2v1h-2zM108 531h3v1h-3zM167 531h7v1h-7zM720 531h2v1h-2zM953 531h1v1h-1zM107 532h3v1h-3zM164 532h8v1h-8zM653 532h4v1h-4zM721 532h2v1h-2zM954 532h1v1h-1zM107 533h2v1h-2zM162 533h8v1h-8zM654 533h4v1h-4zM722 533h2v1h-2zM955 533h1v1h-1zM106 534h2v1h-2zM161 534h6v1h-6zM655 534h4v1h-4zM723 534h2v1h-2zM956 534h1v1h-1zM105 535h3v1h-3zM160 535h5v1h-5zM656 535h4v1h-4zM724 535h2v1h-2zM957 535h1v1h-1zM104 536h3v1h-3zM159 536h4v1h-4zM657 536h4v1h-4zM724 536h3v1h-3zM958 536h2v1h-2zM103 537h3v1h-3zM158 537h4v1h-4zM658 537h3v1h-3zM725 537h3v1h-3zM960 537h1v1h-1zM102 538h3v1h-3zM157 538h4v1h-4zM658 538h4v1h-4zM726 538h3v1h-3zM961 538h1v1h-1zM101 539h3v1h-3zM156 539h4v1h-4zM659 539h4v1h-4zM727 539h3v1h-3zM962 539h1v1h-1zM100 540h3v1h-3zM154 540h5v1h-5zM660 540h3v1h-3zM728 540h3v1h-3zM963 540h1v1h-1zM99 541h3v1h-3zM153 541h5v1h-5zM660 541h4v1h-4zM729 541h3v1h-3zM964 541h2v1h-2zM3 542h2v1h-2zM98 542h3v1h-3zM152 542h5v1h-5zM661 542h4v1h-4zM730 542h3v1h-3zM895 542h6v1h-6zM966 542h1v1h-1zM3 543h3v1h-3zM97 543h3v1h-3zM151 543h4v1h-4zM662 543h4v1h-4zM731 543h3v1h-3zM887 543h15v1h-15zM967 543h1v1h-1zM4 544h4v1h-4zM95 544h4v1h-4zM150 544h4v1h-4zM663 544h3v1h-3zM732 544h3v1h-3zM881 544h14v1h-14zM900 544h4v1h-4zM968 544h2v1h-2zM6 545h4v1h-4zM94 545h3v1h-3zM149 545h4v1h-4zM663 545h4v1h-4zM733 545h3v1h-3zM875 545h12v1h-12zM902 545h4v1h-4zM970 545h1v1h-1zM8 546h4v1h-4zM92 546h4v1h-4zM148 546h4v1h-4zM664 546h4v1h-4zM734 546h3v1h-3zM870 546h11v1h-11zM904 546h4v1h-4zM971 546h1v1h-1zM9 547h5v1h-5zM90 547h4v1h-4zM147 547h4v1h-4zM665 547h3v1h-3zM735 547h3v1h-3zM865 547h10v1h-10zM905 547h5v1h-5zM972 547h2v1h-2zM11 548h4v1h-4zM89 548h4v1h-4zM146 548h4v1h-4zM665 548h4v1h-4zM736 548h3v1h-3zM861 548h9v1h-9zM907 548h3v1h-3zM974 548h1v1h-1zM13 549h4v1h-4zM87 549h4v1h-4zM145 549h4v1h-4zM666 549h4v1h-4zM737 549h2v1h-2zM857 549h8v1h-8zM909 549h1v1h-1zM975 549h1v1h-1zM15 550h4v1h-4zM86 550h3v1h-3zM145 550h3v1h-3zM667 550h3v1h-3zM738 550h3v1h-3zM853 550h8v1h-8zM976 550h2v1h-2zM17 551h4v1h-4zM84 551h4v1h-4zM144 551h4v1h-4zM667 551h4v1h-4zM739 551h3v1h-3zM850 551h7v1h-7zM921 551h3v1h-3zM978 551h1v1h-1zM18 552h6v1h-6zM79 552h7v1h-7zM144 552h3v1h-3zM668 552h4v1h-4zM740 552h3v1h-3zM847 552h6v1h-6zM921 552h5v1h-5zM979 552h1v1h-1zM21 553h7v1h-7zM71 553h14v1h-14zM143 553h4v1h-4zM669 553h3v1h-3zM741 553h4v1h-4zM845 553h5v1h-5zM924 553h2v1h-2zM24 554h7v1h-7zM47 554h32v1h-32zM143 554h3v2h-3zM669 554h4v1h-4zM743 554h3v1h-3zM842 554h6v1h-6zM27 555h7v1h-7zM39 555h32v1h-32zM670 555h4v1h-4zM744 555h4v1h-4zM839 555h6v1h-6zM31 556h16v1h-16zM142 556h3v2h-3zM671 556h4v1h-4zM746 556h3v1h-3zM837 556h5v1h-5zM34 557h5v1h-5zM672 557h3v1h-3zM747 557h4v1h-4zM833 557h7v1h-7zM937 557h1v1h-1zM141 558h3v2h-3zM672 558h4v1h-4zM749 558h3v1h-3zM829 558h8v1h-8zM937 558h2v1h-2zM673 559h4v1h-4zM750 559h4v1h-4zM825 559h8v1h-8zM937 559h3v1h-3zM140 560h4v1h-4zM674 560h3v1h-3zM752 560h3v1h-3zM821 560h8v1h-8zM939 560h3v1h-3zM140 561h3v1h-3zM674 561h4v1h-4zM753 561h4v1h-4zM818 561h7v1h-7zM940 561h2v1h-2zM139 562h4v1h-4zM675 562h4v1h-4zM754 562h6v1h-6zM816 562h5v1h-5zM941 562h1v1h-1zM139 563h3v1h-3zM676 563h3v1h-3zM757 563h7v1h-7zM814 563h5v1h-5zM138 564h4v1h-4zM676 564h4v1h-4zM760 564h7v1h-7zM811 564h5v1h-5zM138 565h3v1h-3zM677 565h4v1h-4zM763 565h7v1h-7zM809 565h5v1h-5zM137 566h4v1h-4zM678 566h3v1h-3zM767 566h7v1h-7zM807 566h5v1h-5zM137 567h3v1h-3zM678 567h4v1h-4zM770 567h10v1h-10zM804 567h5v1h-5zM136 568h4v1h-4zM679 568h4v1h-4zM774 568h11v1h-11zM795 568h12v1h-12zM136 569h3v1h-3zM680 569h3v1h-3zM780 569h25v1h-25zM948 569h3v1h-3zM135 570h4v1h-4zM680 570h4v1h-4zM785 570h10v1h-10zM949 570h3v1h-3zM135 571h3v2h-3zM681 571h4v1h-4zM950 571h3v1h-3zM682 572h3v1h-3zM951 572h3v1h-3zM134 573h3v2h-3zM682 573h4v1h-4zM952 573h3v1h-3zM683 574h4v1h-4zM953 574h3v1h-3zM133 575h3v2h-3zM684 575h3v1h-3zM954 575h3v1h-3zM684 576h4v1h-4zM955 576h3v1h-3zM132 577h4v1h-4zM685 577h4v1h-4zM956 577h3v1h-3zM132 578h3v1h-3zM686 578h3v1h-3zM957 578h3v1h-3zM131 579h4v1h-4zM686 579h4v1h-4zM131 580h3v1h-3zM687 580h4v1h-4zM897 580h4v1h-4zM132 581h2v1h-2zM688 581h2v1h-2zM900 581h2v1h-2zM130 582h3v1h-3zM688 582h4v1h-4zM889 582h15v1h-15zM129 583h4v1h-4zM689 583h4v1h-4zM885 583h12v1h-12zM900 583h6v1h-6zM128 584h4v1h-4zM691 584h3v1h-3zM882 584h11v1h-11zM901 584h6v1h-6zM128 585h3v1h-3zM691 585h4v1h-4zM879 585h10v1h-10zM903 585h6v1h-6zM127 586h4v1h-4zM692 586h5v1h-5zM877 586h8v1h-8zM905 586h5v1h-5zM126 587h4v1h-4zM693 587h5v1h-5zM874 587h8v1h-8zM906 587h6v1h-6zM125 588h4v1h-4zM694 588h5v1h-5zM871 588h9v1h-9zM908 588h6v1h-6zM125 589h3v1h-3zM696 589h5v1h-5zM869 589h8v1h-8zM909 589h6v1h-6zM969 589h1v1h-1zM124 590h4v1h-4zM697 590h5v1h-5zM866 590h8v1h-8zM911 590h4v1h-4zM916 590h17v1h-17zM969 590h2v1h-2zM123 591h4v1h-4zM698 591h5v1h-5zM864 591h8v1h-8zM913 591h2v1h-2zM916 591h18v1h-18zM969 591h3v1h-3zM123 592h3v1h-3zM700 592h5v1h-5zM863 592h6v1h-6zM914 592h1v1h-1zM916 592h19v1h-19zM970 592h2v1h-2zM122 593h4v1h-4zM701 593h5v1h-5zM861 593h6v1h-6zM932 593h4v1h-4zM971 593h2v1h-2zM3 594h3v2h-3zM121 594h4v1h-4zM702 594h5v1h-5zM859 594h6v1h-6zM933 594h5v1h-5zM971 594h3v1h-3zM121 595h3v1h-3zM704 595h4v1h-4zM857 595h6v1h-6zM934 595h5v1h-5zM972 595h3v1h-3zM3 596h4v1h-4zM120 596h4v1h-4zM705 596h5v1h-5zM856 596h6v1h-6zM935 596h5v1h-5zM973 596h3v1h-3zM4 597h4v1h-4zM119 597h4v1h-4zM706 597h4v1h-4zM854 597h6v1h-6zM937 597h4v1h-4zM974 597h3v1h-3zM5 598h4v1h-4zM119 598h3v1h-3zM707 598h4v1h-4zM852 598h6v1h-6zM938 598h4v1h-4zM975 598h3v1h-3zM6 599h4v1h-4zM118 599h4v1h-4zM708 599h4v1h-4zM850 599h6v1h-6zM939 599h5v1h-5zM976 599h3v1h-3zM7 600h4v1h-4zM117 600h4v1h-4zM709 600h4v1h-4zM849 600h6v1h-6zM940 600h5v1h-5zM977 600h3v1h-3zM8 601h4v1h-4zM116 601h4v1h-4zM710 601h4v1h-4zM847 601h6v1h-6zM941 601h5v1h-5zM978 601h2v1h-2zM9 602h4v1h-4zM116 602h3v1h-3zM711 602h4v1h-4zM846 602h5v1h-5zM943 602h4v1h-4zM9 603h5v1h-5zM115 603h4v1h-4zM712 603h4v1h-4zM844 603h6v1h-6zM944 603h4v1h-4zM10 604h4v1h-4zM114 604h4v1h-4zM713 604h4v1h-4zM843 604h5v1h-5zM945 604h4v1h-4zM11 605h4v1h-4zM114 605h3v1h-3zM713 605h5v1h-5zM842 605h5v1h-5zM946 605h4v1h-4zM12 606h4v1h-4zM113 606h4v1h-4zM714 606h4v1h-4zM840 606h5v1h-5zM947 606h4v1h-4zM13 607h4v1h-4zM112 607h4v1h-4zM715 607h4v1h-4zM839 607h5v1h-5zM948 607h3v1h-3zM14 608h4v1h-4zM111 608h4v1h-4zM716 608h4v1h-4zM837 608h6v1h-6zM948 608h4v1h-4zM15 609h4v1h-4zM111 609h3v1h-3zM717 609h4v1h-4zM836 609h5v1h-5zM949 609h4v1h-4zM16 610h4v1h-4zM110 610h4v1h-4zM17 611h4v1h-4zM109 611h4v1h-4zM719 611h4v1h-4zM833 611h5v1h-5zM950 611h4v1h-4zM19 612h3v1h-3zM108 612h4v1h-4zM720 612h4v1h-4zM831 612h6v1h-6zM951 612h4v1h-4zM19 613h4v1h-4zM108 613h3v1h-3zM721 613h4v1h-4zM829 613h6v1h-6zM952 613h3v1h-3zM20 614h4v1h-4zM107 614h4v1h-4zM722 614h3v1h-3zM828 614h6v1h-6zM952 614h4v1h-4zM21 615h4v1h-4zM106 615h4v1h-4zM722 615h4v1h-4zM826 615h6v1h-6zM953 615h4v1h-4zM22 616h4v1h-4zM105 616h4v1h-4zM723 616h4v1h-4zM825 616h5v1h-5zM954 616h3v1h-3zM23 617h4v1h-4zM104 617h4v1h-4zM724 617h4v1h-4zM823 617h6v1h-6zM954 617h4v1h-4zM24 618h5v1h-5zM104 618h3v1h-3zM725 618h4v1h-4zM821 618h6v1h-6zM955 618h4v1h-4zM25 619h5v1h-5zM103 619h4v1h-4zM726 619h4v1h-4zM820 619h6v1h-6zM956 619h3v1h-3zM26 620h5v1h-5zM102 620h4v1h-4zM727 620h4v2h-4zM818 620h6v1h-6zM956 620h4v1h-4zM28 621h4v1h-4zM101 621h4v1h-4zM817 621h5v1h-5zM957 621h4v1h-4zM29 622h4v1h-4zM101 622h3v1h-3zM728 622h4v1h-4zM816 622h5v1h-5zM958 622h3v1h-3zM30 623h4v1h-4zM100 623h4v1h-4zM729 623h4v1h-4zM815 623h4v1h-4zM958 623h4v1h-4zM31 624h4v1h-4zM99 624h4v1h-4zM730 624h4v1h-4zM814 624h4v1h-4zM959 624h4v1h-4zM32 625h21v1h-21zM98 625h4v1h-4zM731 625h4v1h-4zM813 625h4v1h-4zM960 625h3v2h-3zM33 626h22v1h-22zM96 626h4v1h-4zM732 626h4v2h-4zM812 626h4v1h-4zM34 627h23v1h-23zM93 627h7v1h-7zM810 627h5v1h-5zM961 627h2v1h-2zM964 627h1v2h-1zM52 628h7v1h-7zM91 628h8v1h-8zM733 628h4v1h-4zM809 628h5v1h-5zM962 628h1v2h-1zM54 629h7v1h-7zM89 629h7v1h-7zM734 629h4v1h-4zM808 629h5v1h-5zM964 629h2v1h-2zM56 630h7v1h-7zM87 630h7v1h-7zM735 630h4v1h-4zM807 630h4v1h-4zM964 630h3v2h-3zM58 631h7v1h-7zM84 631h8v1h-8zM736 631h4v1h-4zM806 631h4v1h-4zM60 632h7v1h-7zM75 632h15v1h-15zM737 632h4v1h-4zM805 632h4v1h-4zM964 632h4v1h-4zM62 633h25v1h-25zM739 633h3v1h-3zM804 633h4v1h-4zM965 633h4v1h-4zM64 634h21v1h-21zM739 634h5v1h-5zM802 634h5v1h-5zM966 634h4v1h-4zM66 635h9v1h-9zM740 635h5v1h-5zM801 635h5v1h-5zM967 635h3v1h-3zM741 636h6v1h-6zM799 636h6v1h-6zM967 636h4v1h-4zM743 637h5v1h-5zM797 637h6v1h-6zM968 637h4v1h-4zM744 638h5v1h-5zM796 638h6v1h-6zM969 638h3v1h-3zM746 639h5v1h-5zM794 639h6v1h-6zM969 639h4v1h-4zM747 640h5v1h-5zM793 640h5v1h-5zM970 640h4v1h-4zM748 641h6v1h-6zM791 641h6v1h-6zM971 641h3v1h-3zM750 642h5v1h-5zM789 642h6v1h-6zM971 642h4v1h-4zM751 643h7v1h-7zM788 643h6v1h-6zM972 643h4v1h-4zM753 644h11v1h-11zM783 644h9v1h-9zM973 644h3v1h-3zM754 645h15v1h-15zM775 645h15v1h-15zM973 645h4v1h-4zM758 646h31v1h-31zM974 646h4v1h-4zM764 647h19v1h-19zM975 647h4v1h-4zM769 648h6v1h-6zM976 648h3v1h-3zM976 649h4v1h-4zM977 650h4v1h-4z"/>
<path fill="#0000FF" d="M436 227h1v1h-1zM436 228h2v1h-2zM436 229h3v1h-3zM437 230h3v1h-3zM438 231h3v1h-3zM439 232h3v1h-3zM440 233h3v1h-3zM441 234h3v1h-3zM442 235h3v1h-3zM443 236h3v1h-3zM444 237h3v1h-3zM445 238h3v1h-3zM446 239h3v1h-3zM447 240h3v1h-3zM448 241h3v1h-3zM449 242h3v1h-3zM450 243h1v1h-1zM452 243h1v1h-1zM452 244h2v1h-2zM452 245h3v1h-3zM453 246h3v1h-3zM454 247h3v1h-3zM455 248h3v1h-3zM456 249h3v1h-3zM457 250h3v1h-3zM458 251h3v1h-3zM459 252h3v1h-3zM461 253h1v1h-1zM473 263h1v1h-1zM473 264h2v1h-2zM473 265h3v1h-3zM474 266h3v1h-3zM475 267h3v1h-3zM476 268h3v1h-3zM477 269h1v1h-1zM489 279h1v1h-1zM489 280h2v1h-2zM489 281h3v1h-3zM490 282h3v1h-3zM491 283h3v1h-3zM492 284h2v1h-2zM493 285h1v1h-1zM505 294h1v1h-1zM505 295h2v1h-2zM505 296h3v1h-3zM506 297h3v1h-3zM507 298h3v1h-3zM508 299h3v1h-3zM509 300h3v1h-3zM510 301h3v1h-3zM511 302h3v1h-3zM512 303h3v1h-3zM513 304h3v1h-3zM514 305h3v1h-3zM515 306h3v1h-3zM516 307h3v1h-3zM517 308h3v1h-3zM518 309h3v1h-3zM519 310h3v1h-3zM520 311h3v1h-3zM521 312h3v1h-3zM522 313h3v1h-3zM523 314h3v1h-3zM524 315h3v1h-3zM525 316h3v1h-3zM526 317h3v1h-3zM527 318h3v1h-3zM528 319h3v1h-3zM529 320h3v1h-3zM530 321h3v1h-3zM532 322h2v1h-2zM533 323h2v1h-2zM534 324h2v1h-2zM535 325h2v1h-2zM536 326h2v1h-2zM537 327h3v1h-3zM538 328h3v1h-3zM539 329h3v1h-3zM540 330h3v1h-3zM541 331h3v1h-3zM542 332h3v1h-3zM543 333h3v1h-3zM544 334h3v1h-3zM545 335h3v1h-3zM546 336h3v1h-3zM547 337h3v1h-3zM548 338h3v1h-3zM549 339h3v1h-3zM550 340h3v1h-3zM551 341h3v1h-3zM552 342h3v1h-3zM553 343h3v1h-3zM554 344h3v1h-3zM555 345h3v1h-3zM556 346h3v1h-3zM557 347h3v1h-3zM558 348h3v1h-3zM559 349h3v1h-3zM560 350h3v1h-3zM561 351h3v1h-3zM562 352h3v1h-3zM563 353h3v1h-3zM564 354h3v1h-3zM565 355h3v1h-3zM566 356h3v1h-3zM568 357h2v1h-2zM569 358h2v1h-2zM570 359h2v1h-2zM571 360h2v1h-2zM572 361h3v1h-3zM573 362h3v1h-3zM574 363h3v1h-3zM575 364h3v1h-3zM576 365h3v1h-3zM577 366h3v1h-3zM578 367h3v1h-3zM579 368h3v1h-3zM580 369h3v1h-3zM581 370h3v1h-3zM582 371h3v1h-3zM583 372h3v1h-3zM584 373h3v1h-3zM585 374h3v1h-3zM586 375h3v1h-3zM587 376h3v1h-3zM588 377h3v1h-3zM589 378h3v1h-3zM590 379h3v1h-3zM591 380h3v1h-3zM592 381h3v1h-3zM593 382h3v1h-3zM594 383h3v1h-3zM595 384h3v1h-3zM596 385h3v1h-3zM597 386h3v1h-3zM598 387h3v1h-3zM599 388h3v1h-3zM600 389h3v1h-3zM601 390h3v1h-3zM603 391h2v1h-2zM604 392h2v1h-2zM605 393h2v1h-2zM606 394h2v1h-2zM607 395h2v1h-2zM608 396h3v1h-3zM609 397h3v1h-3zM610 398h3v1h-3zM611 399h3v1h-3zM612 400h3v1h-3zM613 401h3v1h-3zM614 402h3v1h-3zM615 403h3v1h-3zM616 404h3v1h-3zM617 405h3v1h-3zM618 406h3v1h-3zM619 407h3v1h-3zM620 408h3v1h-3zM621 409h3v1h-3zM622 410h3v1h-3zM623 411h3v1h-3zM624 412h3v1h-3zM625 413h2v1h-2zM626 414h1v1h-1zM628 414h1v1h-1zM628 415h2v1h-2zM628 416h3v1h-3zM915 416h1v1h-1zM629 417h3v1h-3zM914 417h1v1h-1zM913 418h2v1h-2zM633 419h1v1h-1zM911 419h4v1h-4zM633 420h2v1h-2zM910 420h3v1h-3zM633 421h3v1h-3zM909 421h3v1h-3zM634 422h3v1h-3zM907 422h3v1h-3zM635 423h3v1h-3zM906 423h3v1h-3zM636 424h2v1h-2zM905 424h3v1h-3zM637 425h1v1h-1zM905 425h2v1h-2zM893 433h1v1h-1zM649 434h1v1h-1zM892 434h2v1h-2zM649 435h2v1h-2zM890 435h4v1h-4zM649 436h3v1h-3zM889 436h3v1h-3zM650 437h3v1h-3zM888 437h3v1h-3zM651 438h3v1h-3zM886 438h4v1h-4zM652 439h3v1h-3zM885 439h3v1h-3zM653 440h3v1h-3zM884 440h3v1h-3zM654 441h3v1h-3zM882 441h1v1h-1zM884 441h2v1h-2zM655 442h3v1h-3zM881 442h2v1h-2zM656 443h3v1h-3zM880 443h3v1h-3zM878 444h4v1h-4zM877 445h3v1h-3zM876 446h3v1h-3zM874 447h4v1h-4zM873 448h3v1h-3zM872 449h3v1h-3zM663 450h3v1h-3zM870 450h4v1h-4zM664 451h3v1h-3zM869 451h3v1h-3zM665 452h3v1h-3zM868 452h3v1h-3zM666 453h3v1h-3zM866 453h1v1h-1zM868 453h2v1h-2zM667 454h3v1h-3zM865 454h2v1h-2zM668 455h2v1h-2zM669 456h1v1h-1zM861 457h1v1h-1zM860 458h2v1h-2zM859 459h3v1h-3zM857 460h4v1h-4zM857 461h2v1h-2zM857 462h1v1h-1zM681 465h1v1h-1zM681 466h2v1h-2zM681 467h3v1h-3zM682 468h3v1h-3zM683 469h3v1h-3zM845 469h1v1h-1zM684 470h3v1h-3zM844 470h2v1h-2zM685 471h3v1h-3zM843 471h3v1h-3zM686 472h3v1h-3zM841 472h4v1h-4zM687 473h3v1h-3zM841 473h2v1h-2zM688 474h3v1h-3zM841 474h1v1h-1zM689 475h2v1h-2zM697 481h1v1h-1zM829 481h1v1h-1zM697 482h2v1h-2zM828 482h2v1h-2zM697 483h3v1h-3zM827 483h3v1h-3zM698 484h3v1h-3zM826 484h3v1h-3zM699 485h3v1h-3zM824 485h4v1h-4zM700 486h2v1h-2zM823 486h3v1h-3zM701 487h1v1h-1zM822 487h3v1h-3zM820 488h4v1h-4zM819 489h3v1h-3zM818 490h3v1h-3zM816 491h4v1h-4zM815 492h3v1h-3zM814 493h3v1h-3zM812 494h4v1h-4zM710 495h2v1h-2zM811 495h3v1h-3zM711 496h2v1h-2zM810 496h3v1h-3zM712 497h2v1h-2zM808 497h4v1h-4zM713 498h2v1h-2zM807 498h3v1h-3zM714 499h2v1h-2zM806 499h3v1h-3zM715 500h3v1h-3zM804 500h4v1h-4zM716 501h2v1h-2zM804 501h2v1h-2zM717 502h1v1h-1zM802 502h1v1h-1zM804 502h1v1h-1zM718 503h3v1h-3zM800 503h3v1h-3zM719 504h3v1h-3zM720 505h3v1h-3zM721 506h3v1h-3zM796 506h2v1h-2zM722 507h3v1h-3zM795 507h3v1h-3zM723 508h3v1h-3zM794 508h3v1h-3zM724 509h3v1h-3zM793 509h3v1h-3zM725 510h3v1h-3zM793 510h2v1h-2zM726 511h3v1h-3zM727 512h3v1h-3zM728 513h3v1h-3zM729 514h3v1h-3zM730 515h3v1h-3zM731 516h3v1h-3zM783 516h4v1h-4zM732 517h3v1h-3zM782 517h3v1h-3zM733 518h3v1h-3zM781 518h3v1h-3zM734 519h3v1h-3zM779 519h4v1h-4zM735 520h3v1h-3zM778 520h3v1h-3zM736 521h3v1h-3zM777 521h3v1h-3zM737 522h3v1h-3zM777 522h2v1h-2zM738 523h3v1h-3zM739 524h3v1h-3zM740 525h3v1h-3zM741 526h3v1h-3zM742 527h3v1h-3zM743 528h3v1h-3zM744 529h3v1h-3zM766 529h3v1h-3zM746 530h2v1h-2zM765 530h3v1h-3zM747 531h2v1h-2zM763 531h4v1h-4zM748 532h2v1h-2zM762 532h3v1h-3zM749 533h2v1h-2zM761 533h3v1h-3zM750 534h3v1h-3zM760 534h3v1h-3zM751 535h3v1h-3zM758 535h4v1h-4zM752 536h3v1h-3zM757 536h3v1h-3zM753 537h2v1h-2zM756 537h3v1h-3zM754 538h1v1h-1zM756 538h2v1h-2z"/>
<path fill="#0000CD" d="M1082 575h62v17h-62zM3 579h5v1h-5zM1075 579h5v1h-5zM3 580h1v4h-1zM7 580h1v1h-1zM1075 580h1v1h-1zM1079 580h1v2h-1zM7 581h5v1h-5zM18 581h3v1h-3zM27 581h9v1h-9zM42 581h3v1h-3zM51 581h9v1h-9zM66 581h3v1h-3zM75 581h9v1h-9zM90 581h3v1h-3zM99 581h9v1h-9zM114 581h3v1h-3zM123 581h9v1h-9zM138 581h3v1h-3zM147 581h9v1h-9zM162 581h3v1h-3zM171 581h9v1h-9zM186 581h3v1h-3zM195 581h9v1h-9zM210 581h3v1h-3zM219 581h9v1h-9zM234 581h3v1h-3zM243 581h9v1h-9zM258 581h3v1h-3zM267 581h9v1h-9zM282 581h3v1h-3zM291 581h9v1h-9zM306 581h3v1h-3zM315 581h9v1h-9zM330 581h3v1h-3zM339 581h9v1h-9zM354 581h3v1h-3zM363 581h9v1h-9zM378 581h3v1h-3zM387 581h9v1h-9zM402 581h3v1h-3zM411 581h9v1h-9zM426 581h3v1h-3zM435 581h9v1h-9zM450 581h3v1h-3zM459 581h9v1h-9zM474 581h3v1h-3zM483 581h9v1h-9zM498 581h3v1h-3zM507 581h9v1h-9zM522 581h3v1h-3zM531 581h9v1h-9zM546 581h3v1h-3zM555 581h9v1h-9zM570 581h3v1h-3zM579 581h9v1h-9zM594 581h3v1h-3zM603 581h9v1h-9zM618 581h3v1h-3zM627 581h9v1h-9zM642 581h3v1h-3zM651 581h9v1h-9zM666 581h3v1h-3zM675 581h9v1h-9zM690 581h3v1h-3zM699 581h9v1h-9zM714 581h3v1h-3zM723 581h9v1h-9zM738 581h3v1h-3zM747 581h9v1h-9zM762 581h3v1h-3zM771 581h9v1h-9zM786 581h3v1h-3zM795 581h9v1h-9zM810 581h3v1h-3zM819 581h9v1h-9zM834 581h3v1h-3zM843 581h9v1h-9zM858 581h3v1h-3zM867 581h9v1h-9zM882 581h3v1h-3zM891 581h9v1h-9zM906 581h3v1h-3zM916 581h8v1h-8zM930 581h3v1h-3zM939 581h8v1h-8zM954 581h3v1h-3zM969 581h3v1h-3zM978 581h3v1h-3zM987 581h9v1h-9zM1002 581h3v1h-3zM1011 581h9v1h-9zM1026 581h3v1h-3zM1035 581h9v1h-9zM1050 581h3v1h-3zM1059 581h9v1h-9zM1074 581h3v1h-3zM1075 582h1v2h-1z"/>
<path fill="#26A69A" d="M67 235h1v5h-1zM62 240h11v61h-11zM99 242h1v5h-1zM355 243h1v50h-1zM451 243h1v9h-1zM94 247h11v23h-11zM387 248h1v13h-1zM419 249h1v1h-1zM371 250h1v12h-1zM414 250h11v51h-11zM446 252h11v32h-11zM35 254h1v16h-1zM382 261h11v4h-11zM366 262h11v31h-11zM387 265h1v16h-1zM30 270h11v17h-11zM99 270h1v1h-1zM323 279h1v3h-1zM318 282h11v40h-11zM14 284h11v37h-11zM451 284h1v4h-1zM35 287h1v20h-1zM211 291h1v6h-1zM350 293h11v4h-11zM371 293h1v34h-1zM206 297h11v22h-11zM355 297h1v11h-1zM67 301h1v2h-1zM419 301h1v2h-1zM307 303h1v19h-1zM195 308h1v8h-1zM3 315h6v41h-6zM190 316h11v32h-11zM211 319h1v4h-1zM163 320h1v4h-1zM19 321h1v4h-1zM286 322h11v47h-11zM302 322h11v6h-11zM323 322h1v2h-1zM158 324h11v19h-11zM163 343h1v4h-1zM195 348h1v2h-1zM3 356h1v5h-1zM291 369h1v2h-1zM579 376h1v11h-1zM563 383h1v9h-1zM574 387h11v8h-11zM558 392h11v7h-11zM579 395h1v7h-1zM563 399h1v7h-1zM627 406h1v12h-1zM622 418h11v9h-11zM899 418h1v4h-1zM894 422h11v41h-11zM627 427h1v2h-1zM851 451h1v3h-1zM846 454h11v21h-11zM835 462h1v11h-1zM707 464h1v1h-1zM702 465h11v30h-11zM830 473h11v32h-11zM851 475h1v7h-1zM771 491h1v2h-1zM766 493h11v36h-11zM803 493h1v11h-1zM819 494h1v5h-1zM707 495h1v1h-1zM931 495h1v15h-1zM814 499h11v7h-11zM798 504h11v13h-11zM835 505h1v3h-1zM819 506h1v28h-1zM926 510h11v56h-11zM803 517h1v8h-1zM771 529h1v4h-1zM931 566h1v7h-1zM979 613h1v1h-1zM974 614h11v4h-11z"/>
<path fill="#EF5350" d="M435 226h1v27h-1zM483 230h1v39h-1zM83 234h1v14h-1zM467 234h1v19h-1zM115 246h1v3h-1zM78 248h11v16h-11zM110 249h11v43h-11zM430 253h11v30h-11zM462 253h11v12h-11zM403 258h1v7h-1zM51 260h1v14h-1zM83 264h1v7h-1zM398 265h11v33h-11zM467 265h1v24h-1zM227 266h1v34h-1zM478 269h11v13h-11zM339 273h1v11h-1zM46 274h11v24h-11zM499 274h1v10h-1zM131 277h1v16h-1zM483 282h1v14h-1zM435 283h1v8h-1zM334 284h11v12h-11zM494 284h11v44h-11zM115 292h1v10h-1zM126 293h11v28h-11zM339 296h1v2h-1zM51 298h1v9h-1zM403 298h1v19h-1zM222 300h11v15h-11zM147 308h1v14h-1zM243 311h1v9h-1zM227 315h1v14h-1zM515 317h1v12h-1zM238 320h11v31h-11zM131 321h1v15h-1zM142 322h11v19h-11zM179 323h1v5h-1zM174 328h11v17h-11zM499 328h1v15h-1zM510 329h11v15h-11zM275 336h1v25h-1zM259 339h1v12h-1zM531 340h1v5h-1zM147 341h1v3h-1zM515 344h1v8h-1zM179 345h1v12h-1zM526 345h11v9h-11zM547 346h1v8h-1zM243 351h1v1h-1zM254 351h11v11h-11zM531 354h1v15h-1zM542 354h11v38h-11zM270 361h11v6h-11zM259 362h1v2h-1zM275 367h1v6h-1zM595 387h1v5h-1zM547 392h1v16h-1zM590 392h11v24h-11zM611 405h1v12h-1zM595 416h1v2h-1zM606 417h11v1h-11zM643 417h1v4h-1zM915 417h1v5h-1zM611 418h1v26h-1zM638 421h11v17h-11zM910 422h11v140h-11zM659 431h1v13h-1zM883 433h1v25h-1zM643 438h1v14h-1zM867 439h1v16h-1zM675 442h1v9h-1zM654 444h11v6h-11zM659 450h1v6h-1zM670 451h11v19h-11zM862 455h11v34h-11zM878 458h11v2h-11zM883 460h1v5h-1zM691 461h1v15h-1zM723 462h1v8h-1zM675 470h1v6h-1zM718 470h11v33h-11zM686 476h11v16h-11zM739 485h1v18h-1zM787 485h1v9h-1zM867 489h1v2h-1zM691 492h1v13h-1zM782 494h11v22h-11zM723 503h1v2h-1zM734 503h11v11h-11zM755 507h1v7h-1zM947 508h1v1h-1zM942 509h11v60h-11zM739 514h1v4h-1zM750 514h11v11h-11zM787 516h1v2h-1zM755 525h1v15h-1zM915 562h1v32h-1zM963 562h1v17h-1zM947 569h1v22h-1zM958 579h11v34h-11zM963 613h1v18h-1z"/>
<path fill="#000000" d="M2 2h1079v1h-1079zM2 3h1v840h-1zM1080 3h1v25h-1zM6 10h11v1h-11zM7 11h9v1h-9zM8 12h7v1h-7zM9 13h5v1h-5zM10 14h3v1h-3zM11 15h1v1h-1zM1080 28h3v1h-3zM1080 29h1v64h-1zM1080 93h3v1h-3zM1080 94h1v64h-1zM1080 158h3v1h-3zM1080 159h1v64h-1zM1080 223h3v1h-3zM1080 224h1v64h-1zM1080 288h3v1h-3zM1080 289h1v64h-1zM1080 353h3v1h-3zM1080 354h1v64h-1zM1080 418h3v1h-3zM1080 419h1v64h-1zM1080 483h3v1h-3zM1080 484h1v64h-1zM1080 548h3v1h-3zM1080 549h1v64h-1zM1082 606h62v7h-62zM1080 613h64v1h-64zM1080 614h1v64h-1zM1082 614h62v9h-62zM1080 678h3v1h-3zM1080 679h1v64h-1zM1080 743h3v1h-3zM1080 744h1v64h-1zM1080 808h3v1h-3zM1080 809h1v34h-1zM2 843h1079v1h-1079zM3 844h1v3h-1zM131 844h1v3h-1zM259 844h1v3h-1zM387 844h1v3h-1zM515 844h1v3h-1zM643 844h1v3h-1zM771 844h1v3h-1zM899 844h1v3h-1z"/>
</g>
<text x="1087.17" y="34" textLength="52.34" lengthAdjust="spacingAndGlyphs">1.15000</text>
<text x="1087.17" y="99" textLength="52.34" lengthAdjust="spacingAndGlyphs">1.14060</text>
<text x="1087.17" y="164" textLength="52.34" lengthAdjust="spacingAndGlyphs">1.13120</text>
<text x="1087.17" y="229" textLength="52.34" lengthAdjust="spacingAndGlyphs">1.12180</text>
<text x="1087.17" y="294" textLength="52.34" lengthAdjust="spacingAndGlyphs">1.11240</text>
<text x="1087.17" y="359" textLength="52.34" lengthAdjust="spacingAndGlyphs">1.10300</text>
<text x="1087.17" y="424" textLength="52.34" lengthAdjust="spacingAndGlyphs">1.09360</text>
<text x="1087.17" y="489" textLength="52.34" lengthAdjust="spacingAndGlyphs">1.08410</text>
<text x="1087.17" y="554" textLength="52.34" lengthAdjust="spacingAndGlyphs">1.07470</text>
<text x="1087.17" y="684" textLength="52.34" lengthAdjust="spacingAndGlyphs">1.05590</text>
<text x="1087.17" y="749" textLength="52.34" lengthAdjust="spacingAndGlyphs">1.04650</text>
<text x="1087.17" y="814" textLength="52.34" lengthAdjust="spacingAndGlyphs">1.03710</text>
<text x="1087.17" y="589" textLength="52.34" lengthAdjust="spacingAndGlyphs" class="w">1.07000</text>
<text x="1087.17" y="620" textLength="52.34" lengthAdjust="spacingAndGlyphs" class="w">1.06520</text>
<text x="2.29" y="861" textLength="79.77" lengthAdjust="spacingAndGlyphs">19 Aug 2024</text>
<text x="129.73" y="861" textLength="80.32" lengthAdjust="spacingAndGlyphs">29 Aug 2024</text>
<text x="258.21" y="861" textLength="78.96" lengthAdjust="spacingAndGlyphs">10 Sep 2024</text>
<text x="385.75" y="861" textLength="79.42" lengthAdjust="spacingAndGlyphs">20 Sep 2024</text>
<text x="513.63" y="861" textLength="70.55" lengthAdjust="spacingAndGlyphs">2 Oct 2024</text>
<text x="642.17" y="861" textLength="78.23" lengthAdjust="spacingAndGlyphs">14 Oct 2024</text>
<text x="769.63" y="861" textLength="78.68" lengthAdjust="spacingAndGlyphs">24 Oct 2024</text>
<text x="897.83" y="861" textLength="73.5" lengthAdjust="spacingAndGlyphs">5 Nov 2024</text>
<text x="23.86" y="19" textLength="86.05" lengthAdjust="spacingAndGlyphs">EURUSD,Daily</text>
<text x="118.27" y="19" textLength="219.83" lengthAdjust="spacingAndGlyphs">1.06480 1.06534 1.06480 1.06520</text>
<text x="1031.38" y="607" textLength="47.65" lengthAdjust="spacingAndGlyphs" class="c">FE 61.8</text>
<text x="1023.38" y="726" textLength="55.45" lengthAdjust="spacingAndGlyphs" class="c">FE 100.0</text>
</svg></body></html>
